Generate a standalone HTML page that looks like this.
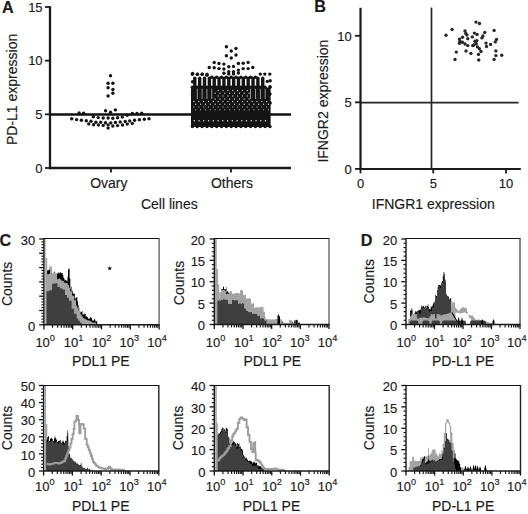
<!DOCTYPE html>
<html><head><meta charset="utf-8"><style>
html,body{margin:0;padding:0;background:#fff;width:528px;height:514px;overflow:hidden;}
svg{display:block;font-family:"Liberation Sans",sans-serif;}
text{stroke:#1a1a1a;stroke-width:0.15px;}
</style></head><body>
<svg width="528" height="514" viewBox="0 0 528 514" font-family="Liberation Sans, sans-serif" fill="#1a1a1a"><text x="2.10" y="12.80" font-size="16.2" text-anchor="start" font-weight="bold" >A</text>
<line x1="50.00" y1="6.30" x2="50.00" y2="169.20" stroke="#1a1a1a" stroke-width="2.3" stroke-linecap="butt"/>
<line x1="45.00" y1="7.00" x2="50.00" y2="7.00" stroke="#1a1a1a" stroke-width="1.8" stroke-linecap="butt"/>
<text x="42.60" y="11.80" font-size="13" text-anchor="end" font-weight="normal" >15</text>
<line x1="45.00" y1="60.67" x2="50.00" y2="60.67" stroke="#1a1a1a" stroke-width="1.8" stroke-linecap="butt"/>
<text x="42.60" y="65.47" font-size="13" text-anchor="end" font-weight="normal" >10</text>
<line x1="45.00" y1="114.33" x2="50.00" y2="114.33" stroke="#1a1a1a" stroke-width="1.8" stroke-linecap="butt"/>
<text x="42.60" y="119.13" font-size="13" text-anchor="end" font-weight="normal" >5</text>
<line x1="45.00" y1="168.00" x2="50.00" y2="168.00" stroke="#1a1a1a" stroke-width="1.8" stroke-linecap="butt"/>
<text x="42.60" y="172.80" font-size="13" text-anchor="end" font-weight="normal" >0</text>
<line x1="48.90" y1="168.00" x2="291.00" y2="168.00" stroke="#1a1a1a" stroke-width="2.3" stroke-linecap="butt"/>
<line x1="111.00" y1="168.00" x2="111.00" y2="172.60" stroke="#1a1a1a" stroke-width="1.8" stroke-linecap="butt"/>
<line x1="231.00" y1="168.00" x2="231.00" y2="172.60" stroke="#1a1a1a" stroke-width="1.8" stroke-linecap="butt"/>
<text x="108.80" y="188.30" font-size="14" text-anchor="middle" font-weight="normal" >Ovary</text>
<text x="232.00" y="188.30" font-size="14" text-anchor="middle" font-weight="normal" >Others</text>
<text x="169.30" y="208.80" font-size="14" text-anchor="middle" font-weight="normal" >Cell lines</text>
<text x="0.00" y="0.00" font-size="14" text-anchor="middle" font-weight="normal" transform="translate(16.6,89.4) rotate(-90)">PD-L1 expression</text>
<line x1="50.00" y1="114.50" x2="291.00" y2="114.50" stroke="#111" stroke-width="2.4" stroke-linecap="butt"/>
<g fill="#141414">
<circle cx="110.50" cy="75.70" r="1.7"/>
<circle cx="108.10" cy="83.20" r="1.7"/>
<circle cx="112.90" cy="83.20" r="1.7"/>
<circle cx="108.10" cy="87.80" r="1.7"/>
<circle cx="112.90" cy="89.50" r="1.7"/>
<circle cx="112.90" cy="93.30" r="1.7"/>
<circle cx="108.10" cy="96.00" r="1.7"/>
<circle cx="105.60" cy="110.80" r="1.7"/>
<circle cx="110.50" cy="112.30" r="1.7"/>
<circle cx="115.40" cy="109.90" r="1.7"/>
<circle cx="79.10" cy="112.90" r="1.7"/>
<circle cx="83.60" cy="113.10" r="1.7"/>
<circle cx="127.20" cy="115.20" r="1.7"/>
<circle cx="132.30" cy="113.50" r="1.7"/>
<circle cx="137.00" cy="113.50" r="1.7"/>
<circle cx="141.70" cy="113.20" r="1.7"/>
<circle cx="93.30" cy="116.80" r="1.7"/>
<circle cx="98.20" cy="117.60" r="1.7"/>
<circle cx="103.20" cy="118.00" r="1.7"/>
<circle cx="108.10" cy="118.00" r="1.7"/>
<circle cx="112.80" cy="118.20" r="1.7"/>
<circle cx="117.60" cy="117.70" r="1.7"/>
<circle cx="122.30" cy="117.10" r="1.7"/>
<circle cx="71.70" cy="118.80" r="1.7"/>
<circle cx="76.60" cy="119.60" r="1.7"/>
<circle cx="81.40" cy="120.30" r="1.7"/>
<circle cx="86.30" cy="120.80" r="1.7"/>
<circle cx="91.00" cy="121.30" r="1.7"/>
<circle cx="95.90" cy="122.20" r="1.7"/>
<circle cx="100.70" cy="122.20" r="1.7"/>
<circle cx="105.50" cy="122.80" r="1.7"/>
<circle cx="110.80" cy="122.90" r="1.7"/>
<circle cx="115.50" cy="122.50" r="1.7"/>
<circle cx="120.20" cy="122.00" r="1.7"/>
<circle cx="125.20" cy="121.50" r="1.7"/>
<circle cx="129.70" cy="120.90" r="1.7"/>
<circle cx="134.60" cy="120.30" r="1.7"/>
<circle cx="139.40" cy="119.80" r="1.7"/>
<circle cx="144.30" cy="119.30" r="1.7"/>
<circle cx="149.00" cy="118.70" r="1.7"/>
<circle cx="88.75" cy="123.90" r="1.7"/>
<circle cx="93.60" cy="124.80" r="1.7"/>
<circle cx="98.40" cy="125.00" r="1.7"/>
<circle cx="103.20" cy="125.40" r="1.7"/>
<circle cx="108.10" cy="124.90" r="1.7"/>
<circle cx="112.80" cy="126.00" r="1.7"/>
<circle cx="117.60" cy="125.60" r="1.7"/>
<circle cx="122.50" cy="125.00" r="1.7"/>
<circle cx="127.30" cy="124.10" r="1.7"/>
<circle cx="132.30" cy="123.40" r="1.7"/>
<circle cx="108.10" cy="128.10" r="1.7"/>
<circle cx="226.40" cy="46.80" r="1.7"/>
<circle cx="236.00" cy="48.50" r="1.7"/>
<circle cx="231.25" cy="51.00" r="1.7"/>
<circle cx="226.40" cy="55.70" r="1.7"/>
<circle cx="236.00" cy="55.00" r="1.7"/>
<circle cx="231.25" cy="58.00" r="1.7"/>
<circle cx="214.20" cy="62.50" r="1.7"/>
<circle cx="219.00" cy="63.50" r="1.7"/>
<circle cx="223.90" cy="64.10" r="1.7"/>
<circle cx="238.40" cy="63.50" r="1.7"/>
<circle cx="243.20" cy="63.30" r="1.7"/>
<circle cx="248.10" cy="62.40" r="1.7"/>
<circle cx="209.30" cy="67.50" r="1.7"/>
<circle cx="214.20" cy="67.80" r="1.7"/>
<circle cx="219.00" cy="68.60" r="1.7"/>
<circle cx="223.90" cy="69.00" r="1.7"/>
<circle cx="228.75" cy="66.70" r="1.7"/>
<circle cx="233.50" cy="66.40" r="1.7"/>
<circle cx="238.40" cy="70.10" r="1.7"/>
<circle cx="243.20" cy="68.60" r="1.7"/>
<circle cx="248.10" cy="68.60" r="1.7"/>
<circle cx="252.80" cy="67.50" r="1.7"/>
<circle cx="228.75" cy="71.80" r="1.7"/>
<circle cx="233.50" cy="71.80" r="1.7"/>
<circle cx="228.75" cy="73.90" r="1.7"/>
<circle cx="233.50" cy="73.90" r="1.7"/>
<circle cx="223.90" cy="73.20" r="1.7"/>
<circle cx="238.40" cy="73.00" r="1.7"/>
<circle cx="192.60" cy="73.40" r="1.7"/>
<circle cx="197.50" cy="74.30" r="1.7"/>
<circle cx="202.30" cy="74.20" r="1.7"/>
<circle cx="207.00" cy="75.20" r="1.7"/>
<circle cx="260.30" cy="74.10" r="1.7"/>
<circle cx="264.80" cy="74.10" r="1.7"/>
<circle cx="269.80" cy="74.10" r="1.7"/>
<circle cx="267.30" cy="81.40" r="1.7"/>
<circle cx="270.00" cy="86.80" r="1.7"/>
<circle cx="211.80" cy="77.20" r="1.7"/>
<circle cx="216.65" cy="77.20" r="1.7"/>
<circle cx="221.50" cy="77.20" r="1.7"/>
<circle cx="226.35" cy="77.20" r="1.7"/>
<circle cx="231.20" cy="77.20" r="1.7"/>
<circle cx="236.05" cy="77.20" r="1.7"/>
<circle cx="240.90" cy="77.20" r="1.7"/>
<circle cx="245.75" cy="77.20" r="1.7"/>
<circle cx="250.60" cy="77.20" r="1.7"/>
<circle cx="255.45" cy="77.20" r="1.7"/>
<circle cx="192.40" cy="74.3" r="1.7"/>
<circle cx="197.25" cy="74.3" r="1.7"/>
<circle cx="202.10" cy="74.3" r="1.7"/>
<circle cx="206.95" cy="74.3" r="1.7"/>
<rect x="193.13" y="76.6" width="3.4" height="11.8" rx="1.7"/>
<rect x="197.98" y="76.6" width="3.4" height="11.8" rx="1.7"/>
<rect x="202.83" y="76.6" width="3.4" height="11.8" rx="1.7"/>
<rect x="207.68" y="76.6" width="3.4" height="11.8" rx="1.7"/>
<rect x="212.53" y="76.6" width="3.4" height="11.8" rx="1.7"/>
<rect x="217.38" y="76.6" width="3.4" height="11.8" rx="1.7"/>
<rect x="222.23" y="76.6" width="3.4" height="11.8" rx="1.7"/>
<rect x="227.08" y="76.6" width="3.4" height="11.8" rx="1.7"/>
<rect x="231.93" y="76.6" width="3.4" height="11.8" rx="1.7"/>
<rect x="236.78" y="76.6" width="3.4" height="11.8" rx="1.7"/>
<rect x="241.63" y="76.6" width="3.4" height="11.8" rx="1.7"/>
<rect x="246.48" y="76.6" width="3.4" height="11.8" rx="1.7"/>
<rect x="251.33" y="76.6" width="3.4" height="11.8" rx="1.7"/>
<rect x="256.18" y="76.6" width="3.4" height="11.8" rx="1.7"/>
<rect x="261.03" y="76.6" width="3.4" height="11.8" rx="1.7"/>
<circle cx="192.6" cy="81.7" r="1.7"/>
<circle cx="270.2" cy="80.7" r="1.7"/>
<circle cx="192.4" cy="94.5" r="1.7"/>
<circle cx="270.0" cy="94.0" r="1.7"/>
<circle cx="192.7" cy="102" r="1.7"/>
<circle cx="270.2" cy="103" r="1.7"/>
<circle cx="192.40" cy="87.2" r="1.7"/>
<circle cx="197.25" cy="87.2" r="1.7"/>
<circle cx="202.10" cy="87.2" r="1.7"/>
<circle cx="206.95" cy="87.2" r="1.7"/>
<circle cx="211.80" cy="87.2" r="1.7"/>
<circle cx="216.65" cy="87.2" r="1.7"/>
<circle cx="221.50" cy="87.2" r="1.7"/>
<circle cx="226.35" cy="87.2" r="1.7"/>
<circle cx="231.20" cy="87.2" r="1.7"/>
<circle cx="236.05" cy="87.2" r="1.7"/>
<circle cx="240.90" cy="87.2" r="1.7"/>
<circle cx="245.75" cy="87.2" r="1.7"/>
<circle cx="250.60" cy="87.2" r="1.7"/>
<circle cx="255.45" cy="87.2" r="1.7"/>
<circle cx="260.30" cy="87.2" r="1.7"/>
<circle cx="265.15" cy="87.2" r="1.7"/>
<circle cx="270.00" cy="87.2" r="1.7"/>
<rect x="191.0" y="87.6" width="79.6" height="39.4"/>
<circle cx="192.40" cy="126.6" r="1.7"/>
<circle cx="197.25" cy="126.6" r="1.7"/>
<circle cx="202.10" cy="126.6" r="1.7"/>
<circle cx="206.95" cy="126.6" r="1.7"/>
<circle cx="211.80" cy="126.6" r="1.7"/>
<circle cx="216.65" cy="126.6" r="1.7"/>
<circle cx="221.50" cy="126.6" r="1.7"/>
<circle cx="226.35" cy="126.6" r="1.7"/>
<circle cx="231.20" cy="126.6" r="1.7"/>
<circle cx="236.05" cy="126.6" r="1.7"/>
<circle cx="240.90" cy="126.6" r="1.7"/>
<circle cx="245.75" cy="126.6" r="1.7"/>
<circle cx="250.60" cy="126.6" r="1.7"/>
<circle cx="255.45" cy="126.6" r="1.7"/>
<circle cx="260.30" cy="126.6" r="1.7"/>
<circle cx="265.15" cy="126.6" r="1.7"/>
<circle cx="270.00" cy="126.6" r="1.7"/>
</g>
<g fill="#ffffff">
<rect x="196.85" y="88.6" width="0.8" height="10.5" rx="0.4" opacity="0.7"/>
<rect x="201.70" y="88.6" width="0.8" height="10.5" rx="0.4" opacity="0.7"/>
<rect x="206.55" y="88.6" width="0.8" height="10.5" rx="0.4" opacity="0.7"/>
<rect x="211.40" y="88.6" width="0.8" height="10.5" rx="0.4" opacity="0.7"/>
<rect x="250.20" y="88.6" width="0.8" height="10.5" rx="0.4" opacity="0.7"/>
<rect x="255.05" y="88.6" width="0.8" height="10.5" rx="0.4" opacity="0.7"/>
<rect x="259.90" y="88.6" width="0.8" height="10.5" rx="0.4" opacity="0.7"/>
<rect x="264.75" y="88.6" width="0.8" height="10.5" rx="0.4" opacity="0.7"/>
<ellipse cx="218.17" cy="90.5" rx="0.6" ry="0.75" opacity="0.85"/>
<ellipse cx="223.02" cy="90.5" rx="0.6" ry="0.75" opacity="0.85"/>
<ellipse cx="227.87" cy="90.5" rx="0.6" ry="0.75" opacity="0.85"/>
<ellipse cx="232.72" cy="90.5" rx="0.6" ry="0.75" opacity="0.85"/>
<ellipse cx="237.57" cy="90.5" rx="0.6" ry="0.75" opacity="0.85"/>
<ellipse cx="242.42" cy="90.5" rx="0.6" ry="0.75" opacity="0.85"/>
<ellipse cx="247.27" cy="90.5" rx="0.6" ry="0.75" opacity="0.85"/>
<ellipse cx="215.12" cy="93.3" rx="0.6" ry="0.75" opacity="0.85"/>
<ellipse cx="219.97" cy="93.3" rx="0.6" ry="0.75" opacity="0.85"/>
<ellipse cx="224.82" cy="93.3" rx="0.6" ry="0.75" opacity="0.85"/>
<ellipse cx="229.67" cy="93.3" rx="0.6" ry="0.75" opacity="0.85"/>
<ellipse cx="234.52" cy="93.3" rx="0.6" ry="0.75" opacity="0.85"/>
<ellipse cx="239.37" cy="93.3" rx="0.6" ry="0.75" opacity="0.85"/>
<ellipse cx="244.22" cy="93.3" rx="0.6" ry="0.75" opacity="0.85"/>
<ellipse cx="249.07" cy="93.3" rx="0.6" ry="0.75" opacity="0.85"/>
<ellipse cx="218.17" cy="96.1" rx="0.6" ry="0.75" opacity="0.85"/>
<ellipse cx="223.02" cy="96.1" rx="0.6" ry="0.75" opacity="0.85"/>
<ellipse cx="227.87" cy="96.1" rx="0.6" ry="0.75" opacity="0.85"/>
<ellipse cx="232.72" cy="96.1" rx="0.6" ry="0.75" opacity="0.85"/>
<ellipse cx="237.57" cy="96.1" rx="0.6" ry="0.75" opacity="0.85"/>
<ellipse cx="242.42" cy="96.1" rx="0.6" ry="0.75" opacity="0.85"/>
<ellipse cx="247.27" cy="96.1" rx="0.6" ry="0.75" opacity="0.85"/>
<ellipse cx="215.12" cy="98.9" rx="0.6" ry="0.75" opacity="0.85"/>
<ellipse cx="219.97" cy="98.9" rx="0.6" ry="0.75" opacity="0.85"/>
<ellipse cx="224.82" cy="98.9" rx="0.6" ry="0.75" opacity="0.85"/>
<ellipse cx="229.67" cy="98.9" rx="0.6" ry="0.75" opacity="0.85"/>
<ellipse cx="234.52" cy="98.9" rx="0.6" ry="0.75" opacity="0.85"/>
<ellipse cx="239.37" cy="98.9" rx="0.6" ry="0.75" opacity="0.85"/>
<ellipse cx="244.22" cy="98.9" rx="0.6" ry="0.75" opacity="0.85"/>
<ellipse cx="249.07" cy="98.9" rx="0.6" ry="0.75" opacity="0.85"/>
<ellipse cx="193.92" cy="101.6" rx="0.6" ry="0.75" opacity="0.85"/>
<ellipse cx="198.77" cy="101.6" rx="0.6" ry="0.75" opacity="0.85"/>
<ellipse cx="203.62" cy="101.6" rx="0.6" ry="0.75" opacity="0.85"/>
<ellipse cx="208.47" cy="101.6" rx="0.6" ry="0.75" opacity="0.85"/>
<ellipse cx="213.32" cy="101.6" rx="0.6" ry="0.75" opacity="0.85"/>
<ellipse cx="218.17" cy="101.6" rx="0.6" ry="0.75" opacity="0.85"/>
<ellipse cx="223.02" cy="101.6" rx="0.6" ry="0.75" opacity="0.85"/>
<ellipse cx="227.87" cy="101.6" rx="0.6" ry="0.75" opacity="0.85"/>
<ellipse cx="232.72" cy="101.6" rx="0.6" ry="0.75" opacity="0.85"/>
<ellipse cx="237.57" cy="101.6" rx="0.6" ry="0.75" opacity="0.85"/>
<ellipse cx="242.42" cy="101.6" rx="0.6" ry="0.75" opacity="0.85"/>
<ellipse cx="247.27" cy="101.6" rx="0.6" ry="0.75" opacity="0.85"/>
<ellipse cx="252.12" cy="101.6" rx="0.6" ry="0.75" opacity="0.85"/>
<ellipse cx="256.97" cy="101.6" rx="0.6" ry="0.75" opacity="0.85"/>
<ellipse cx="261.82" cy="101.6" rx="0.6" ry="0.75" opacity="0.85"/>
<ellipse cx="266.67" cy="101.6" rx="0.6" ry="0.75" opacity="0.85"/>
<ellipse cx="195.72" cy="104.3" rx="0.6" ry="0.75" opacity="0.85"/>
<ellipse cx="200.57" cy="104.3" rx="0.6" ry="0.75" opacity="0.85"/>
<ellipse cx="205.42" cy="104.3" rx="0.6" ry="0.75" opacity="0.85"/>
<ellipse cx="210.27" cy="104.3" rx="0.6" ry="0.75" opacity="0.85"/>
<ellipse cx="215.12" cy="104.3" rx="0.6" ry="0.75" opacity="0.85"/>
<ellipse cx="219.97" cy="104.3" rx="0.6" ry="0.75" opacity="0.85"/>
<ellipse cx="224.82" cy="104.3" rx="0.6" ry="0.75" opacity="0.85"/>
<ellipse cx="229.67" cy="104.3" rx="0.6" ry="0.75" opacity="0.85"/>
<ellipse cx="234.52" cy="104.3" rx="0.6" ry="0.75" opacity="0.85"/>
<ellipse cx="239.37" cy="104.3" rx="0.6" ry="0.75" opacity="0.85"/>
<ellipse cx="244.22" cy="104.3" rx="0.6" ry="0.75" opacity="0.85"/>
<ellipse cx="249.07" cy="104.3" rx="0.6" ry="0.75" opacity="0.85"/>
<ellipse cx="253.92" cy="104.3" rx="0.6" ry="0.75" opacity="0.85"/>
<ellipse cx="258.77" cy="104.3" rx="0.6" ry="0.75" opacity="0.85"/>
<ellipse cx="263.62" cy="104.3" rx="0.6" ry="0.75" opacity="0.85"/>
<ellipse cx="268.47" cy="104.3" rx="0.6" ry="0.75" opacity="0.85"/>
<ellipse cx="193.92" cy="107.0" rx="0.6" ry="0.75" opacity="0.6"/>
<ellipse cx="198.77" cy="107.0" rx="0.6" ry="0.75" opacity="0.6"/>
<ellipse cx="203.62" cy="107.0" rx="0.6" ry="0.75" opacity="0.6"/>
<ellipse cx="208.47" cy="107.0" rx="0.6" ry="0.75" opacity="0.6"/>
<ellipse cx="213.32" cy="107.0" rx="0.6" ry="0.75" opacity="0.6"/>
<ellipse cx="218.17" cy="107.0" rx="0.6" ry="0.75" opacity="0.6"/>
<ellipse cx="223.02" cy="107.0" rx="0.6" ry="0.75" opacity="0.6"/>
<ellipse cx="227.87" cy="107.0" rx="0.6" ry="0.75" opacity="0.6"/>
<ellipse cx="232.72" cy="107.0" rx="0.6" ry="0.75" opacity="0.6"/>
<ellipse cx="237.57" cy="107.0" rx="0.6" ry="0.75" opacity="0.6"/>
<ellipse cx="242.42" cy="107.0" rx="0.6" ry="0.75" opacity="0.6"/>
<ellipse cx="247.27" cy="107.0" rx="0.6" ry="0.75" opacity="0.6"/>
<ellipse cx="252.12" cy="107.0" rx="0.6" ry="0.75" opacity="0.6"/>
<ellipse cx="256.97" cy="107.0" rx="0.6" ry="0.75" opacity="0.6"/>
<ellipse cx="261.82" cy="107.0" rx="0.6" ry="0.75" opacity="0.6"/>
<ellipse cx="266.67" cy="107.0" rx="0.6" ry="0.75" opacity="0.6"/>
<ellipse cx="195.72" cy="109.7" rx="0.6" ry="0.75" opacity="0.6"/>
<ellipse cx="200.57" cy="109.7" rx="0.6" ry="0.75" opacity="0.6"/>
<ellipse cx="205.42" cy="109.7" rx="0.6" ry="0.75" opacity="0.6"/>
<ellipse cx="210.27" cy="109.7" rx="0.6" ry="0.75" opacity="0.6"/>
<ellipse cx="215.12" cy="109.7" rx="0.6" ry="0.75" opacity="0.6"/>
<ellipse cx="219.97" cy="109.7" rx="0.6" ry="0.75" opacity="0.6"/>
<ellipse cx="224.82" cy="109.7" rx="0.6" ry="0.75" opacity="0.6"/>
<ellipse cx="229.67" cy="109.7" rx="0.6" ry="0.75" opacity="0.6"/>
<ellipse cx="234.52" cy="109.7" rx="0.6" ry="0.75" opacity="0.6"/>
<ellipse cx="239.37" cy="109.7" rx="0.6" ry="0.75" opacity="0.6"/>
<ellipse cx="244.22" cy="109.7" rx="0.6" ry="0.75" opacity="0.6"/>
<ellipse cx="249.07" cy="109.7" rx="0.6" ry="0.75" opacity="0.6"/>
<ellipse cx="253.92" cy="109.7" rx="0.6" ry="0.75" opacity="0.6"/>
<ellipse cx="258.77" cy="109.7" rx="0.6" ry="0.75" opacity="0.6"/>
<ellipse cx="263.62" cy="109.7" rx="0.6" ry="0.75" opacity="0.6"/>
<ellipse cx="268.47" cy="109.7" rx="0.6" ry="0.75" opacity="0.6"/>
<circle cx="194.30" cy="120.8" r="0.72" opacity="0.9"/>
<circle cx="199.05" cy="120.8" r="0.72" opacity="0.9"/>
<circle cx="203.80" cy="120.8" r="0.72" opacity="0.9"/>
<circle cx="208.55" cy="120.8" r="0.72" opacity="0.9"/>
<circle cx="213.30" cy="120.8" r="0.72" opacity="0.9"/>
<circle cx="218.05" cy="120.8" r="0.72" opacity="0.9"/>
<circle cx="222.80" cy="120.8" r="0.72" opacity="0.9"/>
<circle cx="227.55" cy="120.8" r="0.72" opacity="0.9"/>
<circle cx="232.30" cy="120.8" r="0.72" opacity="0.9"/>
<circle cx="237.05" cy="120.8" r="0.72" opacity="0.9"/>
<circle cx="241.80" cy="120.8" r="0.72" opacity="0.9"/>
<circle cx="246.55" cy="120.8" r="0.72" opacity="0.9"/>
<circle cx="251.30" cy="120.8" r="0.72" opacity="0.9"/>
<circle cx="256.05" cy="120.8" r="0.72" opacity="0.9"/>
<circle cx="260.80" cy="120.8" r="0.72" opacity="0.9"/>
<circle cx="265.55" cy="120.8" r="0.72" opacity="0.9"/>
</g>
<text x="314.20" y="12.40" font-size="16.2" text-anchor="start" font-weight="bold" >B</text>
<line x1="360.50" y1="7.80" x2="360.50" y2="170.00" stroke="#1a1a1a" stroke-width="2.2" stroke-linecap="butt"/>
<line x1="359.40" y1="168.90" x2="520.80" y2="168.90" stroke="#1a1a1a" stroke-width="2.0" stroke-linecap="butt"/>
<line x1="355.00" y1="168.90" x2="360.50" y2="168.90" stroke="#1a1a1a" stroke-width="1.8" stroke-linecap="butt"/>
<text x="351.80" y="173.70" font-size="13" text-anchor="end" font-weight="normal" >0</text>
<line x1="360.50" y1="168.90" x2="360.50" y2="173.40" stroke="#1a1a1a" stroke-width="1.8" stroke-linecap="butt"/>
<text x="360.50" y="188.30" font-size="13" text-anchor="middle" font-weight="normal" >0</text>
<line x1="355.00" y1="102.35" x2="360.50" y2="102.35" stroke="#1a1a1a" stroke-width="1.8" stroke-linecap="butt"/>
<text x="351.80" y="107.15" font-size="13" text-anchor="end" font-weight="normal" >5</text>
<line x1="433.25" y1="168.90" x2="433.25" y2="173.40" stroke="#1a1a1a" stroke-width="1.8" stroke-linecap="butt"/>
<text x="433.25" y="188.30" font-size="13" text-anchor="middle" font-weight="normal" >5</text>
<line x1="355.00" y1="35.80" x2="360.50" y2="35.80" stroke="#1a1a1a" stroke-width="1.8" stroke-linecap="butt"/>
<text x="351.80" y="40.60" font-size="13" text-anchor="end" font-weight="normal" >10</text>
<line x1="506.00" y1="168.90" x2="506.00" y2="173.40" stroke="#1a1a1a" stroke-width="1.8" stroke-linecap="butt"/>
<text x="506.00" y="188.30" font-size="13" text-anchor="middle" font-weight="normal" >10</text>
<text x="433.25" y="208.80" font-size="14" text-anchor="middle" font-weight="normal" >IFNGR1 expression</text>
<text x="0.00" y="0.00" font-size="14" text-anchor="middle" font-weight="normal" transform="translate(328.0,101.1) rotate(-90)">IFNGR2 expression</text>
<line x1="431.50" y1="7.60" x2="431.50" y2="169.00" stroke="#262626" stroke-width="1.7" stroke-linecap="butt"/>
<line x1="360.50" y1="102.70" x2="518.60" y2="102.70" stroke="#262626" stroke-width="1.7" stroke-linecap="butt"/>
<g fill="#262626">
<circle cx="476" cy="22.1" r="1.7"/>
<circle cx="479.5" cy="23.5" r="1.7"/>
<circle cx="452.1" cy="29.5" r="1.7"/>
<circle cx="446" cy="35.25" r="1.7"/>
<circle cx="465" cy="30.9" r="1.7"/>
<circle cx="465.75" cy="33.4" r="1.7"/>
<circle cx="466.9" cy="35" r="1.7"/>
<circle cx="494.1" cy="30.4" r="1.7"/>
<circle cx="484.75" cy="32.5" r="1.7"/>
<circle cx="474.4" cy="33.1" r="1.7"/>
<circle cx="477.1" cy="34.4" r="1.7"/>
<circle cx="482.9" cy="36" r="1.7"/>
<circle cx="481.9" cy="37.9" r="1.7"/>
<circle cx="472.25" cy="36.9" r="1.7"/>
<circle cx="467.75" cy="38.75" r="1.7"/>
<circle cx="462.5" cy="37.25" r="1.7"/>
<circle cx="459.4" cy="39.1" r="1.7"/>
<circle cx="460" cy="41.25" r="1.7"/>
<circle cx="459.5" cy="43.25" r="1.7"/>
<circle cx="462.5" cy="42.25" r="1.7"/>
<circle cx="465" cy="44" r="1.7"/>
<circle cx="467.75" cy="45.6" r="1.7"/>
<circle cx="472.75" cy="45.6" r="1.7"/>
<circle cx="475" cy="41.25" r="1.7"/>
<circle cx="476.9" cy="40.6" r="1.7"/>
<circle cx="476.25" cy="43.75" r="1.7"/>
<circle cx="477.5" cy="46.9" r="1.7"/>
<circle cx="479.4" cy="48.75" r="1.7"/>
<circle cx="481" cy="51.5" r="1.7"/>
<circle cx="478.5" cy="54.4" r="1.7"/>
<circle cx="478.75" cy="60" r="1.7"/>
<circle cx="470.9" cy="53.4" r="1.7"/>
<circle cx="466" cy="51" r="1.7"/>
<circle cx="456.25" cy="52.1" r="1.7"/>
<circle cx="455" cy="59.4" r="1.7"/>
<circle cx="486" cy="43.1" r="1.7"/>
<circle cx="486.5" cy="46.5" r="1.7"/>
<circle cx="490.6" cy="44.4" r="1.7"/>
<circle cx="496.5" cy="39.4" r="1.7"/>
<circle cx="495.25" cy="41.9" r="1.7"/>
<circle cx="495.9" cy="50.9" r="1.7"/>
<circle cx="495.9" cy="55.6" r="1.7"/>
<circle cx="501.75" cy="55.25" r="1.7"/>
<circle cx="494.1" cy="59.4" r="1.7"/>
<circle cx="473.75" cy="45" r="1.7"/>
</g>
<path d="M 46.50 324.80 L 46.50 269.02 L 47.12 269.02 L 47.12 270.54 L 47.75 270.54 L 47.75 270.35 L 48.38 270.35 L 48.38 270.17 L 49.00 270.17 L 49.00 269.48 L 49.80 269.48 L 49.80 264.75 L 50.00 264.75 L 50.00 279.90 L 50.67 279.90 L 50.67 278.66 L 51.33 278.66 L 51.33 279.53 L 52.00 279.53 L 52.00 279.57 L 53.00 279.57 L 53.00 275.99 L 53.60 275.99 L 53.60 275.22 L 54.20 275.22 L 54.20 271.46 L 54.80 271.46 L 54.80 273.78 L 55.40 273.78 L 55.40 274.93 L 56.00 274.93 L 56.00 274.70 L 56.67 274.70 L 56.67 272.95 L 57.33 272.95 L 57.33 273.66 L 58.00 273.66 L 58.00 272.78 L 58.67 272.78 L 58.67 272.14 L 59.33 272.14 L 59.33 273.59 L 60.00 273.59 L 60.00 272.02 L 60.67 272.02 L 60.67 273.15 L 61.33 273.15 L 61.33 272.89 L 62.00 272.89 L 62.00 273.10 L 62.63 273.10 L 62.63 274.98 L 63.27 274.98 L 63.27 277.52 L 63.90 277.52 L 63.90 278.56 L 64.53 278.56 L 64.53 280.49 L 65.17 280.49 L 65.17 279.87 L 65.80 279.87 L 65.80 280.29 L 66.65 280.29 L 66.65 281.17 L 67.50 281.17 L 67.50 277.11 L 68.00 277.11 L 68.00 269.49 L 68.60 269.49 L 68.60 268.49 L 69.60 268.49 L 69.60 278.44 L 70.30 278.44 L 70.30 288.62 L 70.92 288.62 L 70.92 286.57 L 71.55 286.57 L 71.55 291.58 L 72.17 291.58 L 72.17 290.69 L 72.80 290.69 L 72.80 292.95 L 73.45 292.95 L 73.45 293.89 L 74.10 293.89 L 74.10 293.48 L 74.80 293.48 L 74.80 299.49 L 75.43 299.49 L 75.43 297.83 L 76.07 297.83 L 76.07 297.63 L 76.70 297.63 L 76.70 297.06 L 77.35 297.06 L 77.35 301.61 L 78.00 301.61 L 78.00 304.91 L 78.65 304.91 L 78.65 308.09 L 79.30 308.09 L 79.30 311.48 L 79.94 311.48 L 79.94 311.64 L 80.58 311.64 L 80.58 312.24 L 81.22 312.24 L 81.22 311.97 L 81.86 311.97 L 81.86 310.93 L 82.50 310.93 L 82.50 314.38 L 83.10 314.38 L 83.10 314.31 L 83.70 314.31 L 83.70 314.65 L 84.37 314.65 L 84.37 313.34 L 85.03 313.34 L 85.03 313.96 L 85.70 313.96 L 85.70 316.84 L 86.33 316.84 L 86.33 316.04 L 86.95 316.04 L 86.95 317.21 L 87.58 317.21 L 87.58 317.51 L 88.20 317.51 L 88.20 318.97 L 88.85 318.97 L 88.85 318.22 L 89.50 318.22 L 89.50 318.76 L 90.15 318.76 L 90.15 317.12 L 90.80 317.12 L 90.80 317.38 L 91.45 317.38 L 91.45 318.36 L 92.10 318.36 L 92.10 320.57 L 92.75 320.57 L 92.75 320.51 L 93.40 320.51 L 93.40 320.50 L 94.05 320.50 L 94.05 318.66 L 94.70 318.66 L 94.70 319.73 L 95.35 319.73 L 95.35 321.52 L 96.00 321.52 L 96.00 321.48 L 96.60 321.48 L 96.60 321.03 L 97.20 321.03 L 97.20 324.58 L 98.00 324.58 L 98.00 324.80 L 98.00 324.80 Z" fill="#000" opacity="1"/>
<path d="M 44.60 324.80 L 44.60 239.00 L 45.60 239.00 L 45.60 324.80 Z" fill="#a3a3a3" opacity="1"/>
<path d="M 45.60 324.80 L 45.60 257.76 L 47.20 257.76 L 47.20 258.62 L 47.20 258.62 L 47.20 274.32 L 48.60 274.32 L 48.60 273.71 L 50.00 273.71 L 50.00 273.99 L 50.00 273.99 L 50.00 266.54 L 52.00 266.54 L 52.00 266.78 L 52.00 266.78 L 52.00 273.35 L 53.25 273.35 L 53.25 272.51 L 54.50 272.51 L 54.50 272.43 L 55.75 272.43 L 55.75 273.40 L 57.00 273.40 L 57.00 272.92 L 57.00 272.92 L 57.00 279.31 L 58.50 279.31 L 58.50 278.55 L 60.00 278.55 L 60.00 279.23 L 61.30 279.23 L 61.30 280.57 L 62.60 280.57 L 62.60 280.97 L 63.87 280.97 L 63.87 282.47 L 65.13 282.47 L 65.13 283.05 L 66.40 283.05 L 66.40 282.64 L 67.70 282.64 L 67.70 284.88 L 69.00 284.88 L 69.00 287.75 L 70.30 287.75 L 70.30 291.43 L 72.20 291.43 L 72.20 295.86 L 74.10 295.86 L 74.10 300.16 L 76.00 300.16 L 76.00 305.51 L 77.30 305.51 L 77.30 307.63 L 78.60 307.63 L 78.60 310.47 L 80.50 310.47 L 80.50 314.53 L 81.80 314.53 L 81.80 316.54 L 83.10 316.54 L 83.10 318.18 L 84.40 318.18 L 84.40 318.81 L 85.70 318.81 L 85.70 319.43 L 87.00 319.43 L 87.00 320.35 L 88.27 320.35 L 88.27 320.58 L 89.53 320.58 L 89.53 320.69 L 90.80 320.69 L 90.80 322.11 L 92.10 322.11 L 92.10 322.20 L 93.40 322.20 L 93.40 322.74 L 94.70 322.74 L 94.70 322.62 L 95.95 322.62 L 95.95 324.24 L 97.20 324.24 L 97.20 324.73 L 97.20 324.80 Z" fill="#a3a3a3" opacity="1"/>
<path d="M 46.50 324.80 L 46.50 291.16 L 47.90 291.16 L 47.90 291.15 L 49.30 291.15 L 49.30 290.26 L 50.70 290.26 L 50.70 290.28 L 52.10 290.28 L 52.10 291.04 L 52.10 291.04 L 52.10 283.64 L 53.90 283.64 L 53.90 283.57 L 55.70 283.57 L 55.70 283.21 L 57.50 283.21 L 57.50 283.51 L 57.50 283.51 L 57.50 287.11 L 60.00 287.11 L 60.00 288.38 L 62.60 288.38 L 62.60 289.66 L 65.00 289.66 L 65.00 294.93 L 67.00 294.93 L 67.00 297.64 L 69.00 297.64 L 69.00 300.72 L 71.60 300.72 L 71.60 308.69 L 74.10 308.69 L 74.10 313.75 L 76.70 313.75 L 76.70 318.54 L 78.30 318.54 L 78.30 320.69 L 79.90 320.69 L 79.90 322.77 L 81.80 322.77 L 81.80 324.34 L 81.80 324.80 Z" fill="#3f3f3f" opacity="1"/>
<path d="M 109.70 265.90 L 110.33 267.43 L 111.98 267.56 L 110.73 268.63 L 111.11 270.24 L 109.70 269.38 L 108.29 270.24 L 108.67 268.63 L 107.42 267.56 L 109.07 267.43 Z" fill="#111"/>
<line x1="39.20" y1="324.80" x2="43.90" y2="324.80" stroke="#111" stroke-width="1.3" stroke-linecap="butt"/>
<line x1="41.40" y1="321.94" x2="43.90" y2="321.94" stroke="#111" stroke-width="1.15" stroke-linecap="butt"/>
<line x1="41.40" y1="319.08" x2="43.90" y2="319.08" stroke="#111" stroke-width="1.15" stroke-linecap="butt"/>
<line x1="41.40" y1="316.22" x2="43.90" y2="316.22" stroke="#111" stroke-width="1.15" stroke-linecap="butt"/>
<line x1="41.40" y1="313.36" x2="43.90" y2="313.36" stroke="#111" stroke-width="1.15" stroke-linecap="butt"/>
<line x1="39.20" y1="310.50" x2="43.90" y2="310.50" stroke="#111" stroke-width="1.3" stroke-linecap="butt"/>
<line x1="41.40" y1="307.64" x2="43.90" y2="307.64" stroke="#111" stroke-width="1.15" stroke-linecap="butt"/>
<line x1="41.40" y1="304.78" x2="43.90" y2="304.78" stroke="#111" stroke-width="1.15" stroke-linecap="butt"/>
<line x1="41.40" y1="301.92" x2="43.90" y2="301.92" stroke="#111" stroke-width="1.15" stroke-linecap="butt"/>
<line x1="41.40" y1="299.06" x2="43.90" y2="299.06" stroke="#111" stroke-width="1.15" stroke-linecap="butt"/>
<line x1="39.20" y1="296.20" x2="43.90" y2="296.20" stroke="#111" stroke-width="1.3" stroke-linecap="butt"/>
<line x1="41.40" y1="293.34" x2="43.90" y2="293.34" stroke="#111" stroke-width="1.15" stroke-linecap="butt"/>
<line x1="41.40" y1="290.48" x2="43.90" y2="290.48" stroke="#111" stroke-width="1.15" stroke-linecap="butt"/>
<line x1="41.40" y1="287.62" x2="43.90" y2="287.62" stroke="#111" stroke-width="1.15" stroke-linecap="butt"/>
<line x1="41.40" y1="284.76" x2="43.90" y2="284.76" stroke="#111" stroke-width="1.15" stroke-linecap="butt"/>
<line x1="39.20" y1="281.90" x2="43.90" y2="281.90" stroke="#111" stroke-width="1.3" stroke-linecap="butt"/>
<line x1="41.40" y1="279.04" x2="43.90" y2="279.04" stroke="#111" stroke-width="1.15" stroke-linecap="butt"/>
<line x1="41.40" y1="276.18" x2="43.90" y2="276.18" stroke="#111" stroke-width="1.15" stroke-linecap="butt"/>
<line x1="41.40" y1="273.32" x2="43.90" y2="273.32" stroke="#111" stroke-width="1.15" stroke-linecap="butt"/>
<line x1="41.40" y1="270.46" x2="43.90" y2="270.46" stroke="#111" stroke-width="1.15" stroke-linecap="butt"/>
<line x1="39.20" y1="267.60" x2="43.90" y2="267.60" stroke="#111" stroke-width="1.3" stroke-linecap="butt"/>
<line x1="41.40" y1="264.74" x2="43.90" y2="264.74" stroke="#111" stroke-width="1.15" stroke-linecap="butt"/>
<line x1="41.40" y1="261.88" x2="43.90" y2="261.88" stroke="#111" stroke-width="1.15" stroke-linecap="butt"/>
<line x1="41.40" y1="259.02" x2="43.90" y2="259.02" stroke="#111" stroke-width="1.15" stroke-linecap="butt"/>
<line x1="41.40" y1="256.16" x2="43.90" y2="256.16" stroke="#111" stroke-width="1.15" stroke-linecap="butt"/>
<line x1="39.20" y1="253.30" x2="43.90" y2="253.30" stroke="#111" stroke-width="1.3" stroke-linecap="butt"/>
<line x1="41.40" y1="250.44" x2="43.90" y2="250.44" stroke="#111" stroke-width="1.15" stroke-linecap="butt"/>
<line x1="41.40" y1="247.58" x2="43.90" y2="247.58" stroke="#111" stroke-width="1.15" stroke-linecap="butt"/>
<line x1="41.40" y1="244.72" x2="43.90" y2="244.72" stroke="#111" stroke-width="1.15" stroke-linecap="butt"/>
<line x1="41.40" y1="241.86" x2="43.90" y2="241.86" stroke="#111" stroke-width="1.15" stroke-linecap="butt"/>
<line x1="39.20" y1="239.00" x2="43.90" y2="239.00" stroke="#111" stroke-width="1.3" stroke-linecap="butt"/>
<text x="35.20" y="330.50" font-size="13" text-anchor="end" font-weight="normal" >0</text>
<text x="35.20" y="244.70" font-size="13" text-anchor="end" font-weight="normal" >30</text>
<line x1="43.90" y1="324.80" x2="43.90" y2="329.40" stroke="#111" stroke-width="1.3" stroke-linecap="butt"/>
<line x1="52.57" y1="324.80" x2="52.57" y2="327.70" stroke="#111" stroke-width="1.15" stroke-linecap="butt"/>
<line x1="57.64" y1="324.80" x2="57.64" y2="327.70" stroke="#111" stroke-width="1.15" stroke-linecap="butt"/>
<line x1="61.24" y1="324.80" x2="61.24" y2="327.70" stroke="#111" stroke-width="1.15" stroke-linecap="butt"/>
<line x1="64.03" y1="324.80" x2="64.03" y2="327.70" stroke="#111" stroke-width="1.15" stroke-linecap="butt"/>
<line x1="66.31" y1="324.80" x2="66.31" y2="327.70" stroke="#111" stroke-width="1.15" stroke-linecap="butt"/>
<line x1="68.24" y1="324.80" x2="68.24" y2="327.70" stroke="#111" stroke-width="1.15" stroke-linecap="butt"/>
<line x1="69.91" y1="324.80" x2="69.91" y2="327.70" stroke="#111" stroke-width="1.15" stroke-linecap="butt"/>
<line x1="71.38" y1="324.80" x2="71.38" y2="327.70" stroke="#111" stroke-width="1.15" stroke-linecap="butt"/>
<line x1="72.70" y1="324.80" x2="72.70" y2="329.40" stroke="#111" stroke-width="1.3" stroke-linecap="butt"/>
<line x1="81.37" y1="324.80" x2="81.37" y2="327.70" stroke="#111" stroke-width="1.15" stroke-linecap="butt"/>
<line x1="86.44" y1="324.80" x2="86.44" y2="327.70" stroke="#111" stroke-width="1.15" stroke-linecap="butt"/>
<line x1="90.04" y1="324.80" x2="90.04" y2="327.70" stroke="#111" stroke-width="1.15" stroke-linecap="butt"/>
<line x1="92.83" y1="324.80" x2="92.83" y2="327.70" stroke="#111" stroke-width="1.15" stroke-linecap="butt"/>
<line x1="95.11" y1="324.80" x2="95.11" y2="327.70" stroke="#111" stroke-width="1.15" stroke-linecap="butt"/>
<line x1="97.04" y1="324.80" x2="97.04" y2="327.70" stroke="#111" stroke-width="1.15" stroke-linecap="butt"/>
<line x1="98.71" y1="324.80" x2="98.71" y2="327.70" stroke="#111" stroke-width="1.15" stroke-linecap="butt"/>
<line x1="100.18" y1="324.80" x2="100.18" y2="327.70" stroke="#111" stroke-width="1.15" stroke-linecap="butt"/>
<line x1="101.50" y1="324.80" x2="101.50" y2="329.40" stroke="#111" stroke-width="1.3" stroke-linecap="butt"/>
<line x1="110.17" y1="324.80" x2="110.17" y2="327.70" stroke="#111" stroke-width="1.15" stroke-linecap="butt"/>
<line x1="115.24" y1="324.80" x2="115.24" y2="327.70" stroke="#111" stroke-width="1.15" stroke-linecap="butt"/>
<line x1="118.84" y1="324.80" x2="118.84" y2="327.70" stroke="#111" stroke-width="1.15" stroke-linecap="butt"/>
<line x1="121.63" y1="324.80" x2="121.63" y2="327.70" stroke="#111" stroke-width="1.15" stroke-linecap="butt"/>
<line x1="123.91" y1="324.80" x2="123.91" y2="327.70" stroke="#111" stroke-width="1.15" stroke-linecap="butt"/>
<line x1="125.84" y1="324.80" x2="125.84" y2="327.70" stroke="#111" stroke-width="1.15" stroke-linecap="butt"/>
<line x1="127.51" y1="324.80" x2="127.51" y2="327.70" stroke="#111" stroke-width="1.15" stroke-linecap="butt"/>
<line x1="128.98" y1="324.80" x2="128.98" y2="327.70" stroke="#111" stroke-width="1.15" stroke-linecap="butt"/>
<line x1="130.30" y1="324.80" x2="130.30" y2="329.40" stroke="#111" stroke-width="1.3" stroke-linecap="butt"/>
<line x1="138.97" y1="324.80" x2="138.97" y2="327.70" stroke="#111" stroke-width="1.15" stroke-linecap="butt"/>
<line x1="144.04" y1="324.80" x2="144.04" y2="327.70" stroke="#111" stroke-width="1.15" stroke-linecap="butt"/>
<line x1="147.64" y1="324.80" x2="147.64" y2="327.70" stroke="#111" stroke-width="1.15" stroke-linecap="butt"/>
<line x1="150.43" y1="324.80" x2="150.43" y2="327.70" stroke="#111" stroke-width="1.15" stroke-linecap="butt"/>
<line x1="152.71" y1="324.80" x2="152.71" y2="327.70" stroke="#111" stroke-width="1.15" stroke-linecap="butt"/>
<line x1="154.64" y1="324.80" x2="154.64" y2="327.70" stroke="#111" stroke-width="1.15" stroke-linecap="butt"/>
<line x1="156.31" y1="324.80" x2="156.31" y2="327.70" stroke="#111" stroke-width="1.15" stroke-linecap="butt"/>
<line x1="157.78" y1="324.80" x2="157.78" y2="327.70" stroke="#111" stroke-width="1.15" stroke-linecap="butt"/>
<line x1="159.10" y1="324.80" x2="159.10" y2="329.40" stroke="#111" stroke-width="1.3" stroke-linecap="butt"/>
<line x1="43.90" y1="238.50" x2="159.70" y2="238.50" stroke="#111" stroke-width="1.0" stroke-linecap="butt"/>
<line x1="159.10" y1="238.50" x2="159.10" y2="324.80" stroke="#666" stroke-width="1.4" stroke-linecap="butt"/>
<line x1="43.90" y1="238.00" x2="43.90" y2="325.60" stroke="#1a1a1a" stroke-width="1.4" stroke-linecap="butt"/>
<line x1="43.30" y1="324.80" x2="159.70" y2="324.80" stroke="#1a1a1a" stroke-width="1.4" stroke-linecap="butt"/>
<text x="35.40" y="346.60" font-size="13">10<tspan font-size="9.2" dy="-5.6">0</tspan></text>
<text x="63.70" y="346.60" font-size="13">10<tspan font-size="9.2" dy="-5.6">1</tspan></text>
<text x="91.90" y="346.60" font-size="13">10<tspan font-size="9.2" dy="-5.6">2</tspan></text>
<text x="119.60" y="346.60" font-size="13">10<tspan font-size="9.2" dy="-5.6">3</tspan></text>
<text x="147.30" y="346.60" font-size="13">10<tspan font-size="9.2" dy="-5.6">4</tspan></text>
<text x="100.90" y="366.30" font-size="14" text-anchor="middle" font-weight="normal" >PDL1 PE</text>
<text x="0.00" y="0.00" font-size="14" text-anchor="middle" font-weight="normal" transform="translate(12.2,283.9) rotate(-90)">Counts</text>
<path d="M 217.40 324.50 L 217.40 300.76 L 218.12 300.76 L 218.12 298.65 L 218.84 298.65 L 218.84 298.74 L 219.56 298.74 L 219.56 299.50 L 220.28 299.50 L 220.28 298.37 L 221.00 298.37 L 221.00 298.41 L 221.30 298.41 L 221.30 289.35 L 222.15 289.35 L 222.15 289.23 L 223.00 289.23 L 223.00 286.78 L 224.00 286.78 L 224.00 289.22 L 225.00 289.22 L 225.00 289.19 L 226.00 289.19 L 226.00 287.19 L 226.50 287.19 L 226.50 292.27 L 227.25 292.27 L 227.25 291.02 L 228.00 291.02 L 228.00 292.90 L 228.67 292.90 L 228.67 291.76 L 229.33 291.76 L 229.33 293.80 L 230.00 293.80 L 230.00 293.68 L 230.67 293.68 L 230.67 290.90 L 231.33 290.90 L 231.33 293.97 L 232.00 293.97 L 232.00 293.80 L 232.00 293.80 L 232.00 300.49 L 232.60 300.49 L 232.60 298.46 L 233.20 298.46 L 233.20 298.25 L 233.80 298.25 L 233.80 300.51 L 234.40 300.51 L 234.40 300.17 L 235.00 300.17 L 235.00 299.01 L 235.60 299.01 L 235.60 298.64 L 236.20 298.64 L 236.20 299.02 L 236.80 299.02 L 236.80 299.87 L 237.40 299.87 L 237.40 300.50 L 238.00 300.50 L 238.00 299.42 L 239.00 299.42 L 239.00 301.51 L 239.60 301.51 L 239.60 301.78 L 240.20 301.78 L 240.20 302.08 L 240.80 302.08 L 240.80 302.57 L 241.40 302.57 L 241.40 300.29 L 242.00 300.29 L 242.00 301.00 L 242.67 301.00 L 242.67 302.38 L 243.33 302.38 L 243.33 304.11 L 244.00 304.11 L 244.00 303.44 L 244.67 303.44 L 244.67 305.70 L 245.33 305.70 L 245.33 308.25 L 246.00 308.25 L 246.00 310.06 L 246.67 310.06 L 246.67 308.49 L 247.33 308.49 L 247.33 309.56 L 248.00 309.56 L 248.00 310.83 L 248.67 310.83 L 248.67 309.89 L 249.33 309.89 L 249.33 309.29 L 250.00 309.29 L 250.00 309.34 L 250.67 309.34 L 250.67 309.44 L 251.33 309.44 L 251.33 310.23 L 252.00 310.23 L 252.00 311.31 L 252.60 311.31 L 252.60 310.53 L 253.20 310.53 L 253.20 310.61 L 253.80 310.61 L 253.80 310.61 L 254.40 310.61 L 254.40 312.14 L 255.00 312.14 L 255.00 312.68 L 255.60 312.68 L 255.60 312.70 L 256.20 312.70 L 256.20 311.16 L 256.80 311.16 L 256.80 310.30 L 257.40 310.30 L 257.40 312.87 L 258.00 312.87 L 258.00 311.58 L 258.67 311.58 L 258.67 313.44 L 259.33 313.44 L 259.33 313.91 L 260.00 313.91 L 260.00 314.75 L 260.67 314.75 L 260.67 312.64 L 261.33 312.64 L 261.33 314.54 L 262.00 314.54 L 262.00 314.30 L 262.67 314.30 L 262.67 316.08 L 263.33 316.08 L 263.33 317.57 L 264.00 317.57 L 264.00 316.61 L 264.67 316.61 L 264.67 318.36 L 265.33 318.36 L 265.33 319.89 L 266.00 319.89 L 266.00 320.95 L 266.67 320.95 L 266.67 319.39 L 267.33 319.39 L 267.33 320.28 L 268.00 320.28 L 268.00 321.96 L 268.67 321.96 L 268.67 321.91 L 269.33 321.91 L 269.33 322.43 L 270.00 322.43 L 270.00 320.39 L 270.60 320.39 L 270.60 323.37 L 271.20 323.37 L 271.20 323.46 L 271.80 323.46 L 271.80 323.04 L 272.40 323.04 L 272.40 320.23 L 273.00 320.23 L 273.00 322.01 L 273.60 322.01 L 273.60 323.50 L 274.20 323.50 L 274.20 323.34 L 274.80 323.34 L 274.80 322.19 L 275.40 322.19 L 275.40 319.98 L 276.00 319.98 L 276.00 324.39 L 276.67 324.39 L 276.67 319.54 L 277.33 319.54 L 277.33 319.23 L 278.00 319.23 L 278.00 314.26 L 278.67 314.26 L 278.67 316.58 L 279.33 316.58 L 279.33 319.84 L 280.00 319.84 L 280.00 320.42 L 280.60 320.42 L 280.60 320.39 L 281.20 320.39 L 281.20 322.12 L 281.80 322.12 L 281.80 323.77 L 282.40 323.77 L 282.40 321.14 L 283.00 321.14 L 283.00 322.51 L 283.60 322.51 L 283.60 324.09 L 284.20 324.09 L 284.20 323.16 L 284.80 323.16 L 284.80 323.18 L 285.40 323.18 L 285.40 323.52 L 286.00 323.52 L 286.00 323.35 L 286.60 323.35 L 286.60 323.79 L 287.20 323.79 L 287.20 323.35 L 287.80 323.35 L 287.80 323.86 L 288.40 323.86 L 288.40 323.77 L 289.00 323.77 L 289.00 323.12 L 289.60 323.12 L 289.60 321.45 L 290.20 321.45 L 290.20 323.90 L 290.80 323.90 L 290.80 322.92 L 291.40 322.92 L 291.40 322.37 L 292.00 322.37 L 292.00 321.85 L 292.67 321.85 L 292.67 323.01 L 293.33 323.01 L 293.33 323.08 L 294.00 323.08 L 294.00 320.14 L 294.67 320.14 L 294.67 321.81 L 295.33 321.81 L 295.33 321.05 L 296.00 321.05 L 296.00 320.16 L 296.67 320.16 L 296.67 321.56 L 297.33 321.56 L 297.33 322.36 L 298.00 322.36 L 298.00 322.92 L 298.67 322.92 L 298.67 321.63 L 299.33 321.63 L 299.33 323.56 L 300.00 323.56 L 300.00 324.50 L 300.00 324.50 Z" fill="#000" opacity="1"/>
<path d="M 214.90 324.50 L 214.90 239.00 L 216.80 239.00 L 216.80 269.00 L 218.10 269.00 L 218.10 284.60 L 219.30 284.60 L 219.30 324.50 Z" fill="#a3a3a3" opacity="1"/>
<path d="M 219.30 324.50 L 219.30 292.29 L 221.00 292.29 L 221.00 292.18 L 221.00 292.18 L 221.00 290.22 L 222.00 290.22 L 222.00 290.02 L 223.00 290.02 L 223.00 289.95 L 224.00 289.95 L 224.00 290.22 L 225.00 290.22 L 225.00 290.63 L 226.00 290.63 L 226.00 290.54 L 226.00 290.54 L 226.00 293.91 L 227.00 293.91 L 227.00 293.48 L 228.00 293.48 L 228.00 293.73 L 229.00 293.73 L 229.00 293.52 L 230.00 293.52 L 230.00 293.44 L 231.00 293.44 L 231.00 293.38 L 232.00 293.38 L 232.00 293.47 L 233.00 293.47 L 233.00 294.04 L 234.00 294.04 L 234.00 293.96 L 234.00 293.96 L 234.00 293.35 L 235.00 293.35 L 235.00 293.34 L 236.00 293.34 L 236.00 292.85 L 237.00 292.85 L 237.00 292.95 L 238.00 292.95 L 238.00 293.20 L 239.00 293.20 L 239.00 293.29 L 240.00 293.29 L 240.00 293.38 L 240.00 293.38 L 240.00 290.60 L 241.00 290.60 L 241.00 289.97 L 242.00 289.97 L 242.00 290.38 L 243.00 290.38 L 243.00 290.44 L 243.00 290.44 L 243.00 295.00 L 244.00 295.00 L 244.00 294.74 L 245.00 294.74 L 245.00 294.98 L 246.00 294.98 L 246.00 294.67 L 246.00 294.67 L 246.00 298.55 L 247.00 298.55 L 247.00 298.55 L 248.00 298.55 L 248.00 298.36 L 249.00 298.36 L 249.00 298.22 L 250.00 298.22 L 250.00 298.77 L 251.00 298.77 L 251.00 298.56 L 251.00 298.56 L 251.00 303.61 L 252.00 303.61 L 252.00 303.58 L 253.00 303.58 L 253.00 303.31 L 254.00 303.31 L 254.00 303.23 L 254.00 303.23 L 254.00 307.58 L 255.00 307.58 L 255.00 307.44 L 256.00 307.44 L 256.00 307.23 L 257.00 307.23 L 257.00 307.34 L 258.00 307.34 L 258.00 307.75 L 259.00 307.75 L 259.00 307.13 L 260.00 307.13 L 260.00 307.14 L 261.00 307.14 L 261.00 307.60 L 261.00 307.60 L 261.00 306.72 L 262.25 306.72 L 262.25 306.93 L 263.50 306.93 L 263.50 306.88 L 263.50 306.88 L 263.50 311.87 L 265.00 311.87 L 265.00 312.40 L 265.00 312.40 L 265.00 317.76 L 266.00 317.76 L 266.00 319.33 L 267.00 319.33 L 267.00 319.16 L 268.00 319.16 L 268.00 319.51 L 269.00 319.51 L 269.00 319.22 L 270.00 319.22 L 270.00 319.28 L 271.00 319.28 L 271.00 319.60 L 272.00 319.60 L 272.00 319.26 L 273.00 319.26 L 273.00 319.45 L 274.00 319.45 L 274.00 319.72 L 275.00 319.72 L 275.00 319.08 L 276.00 319.08 L 276.00 319.05 L 277.00 319.05 L 277.00 319.18 L 278.00 319.18 L 278.00 319.61 L 279.00 319.61 L 279.00 319.49 L 280.00 319.49 L 280.00 319.19 L 281.00 319.19 L 281.00 319.26 L 282.00 319.26 L 282.00 319.14 L 282.00 319.14 L 282.00 322.97 L 283.00 322.97 L 283.00 322.63 L 284.00 322.63 L 284.00 323.16 L 285.00 323.16 L 285.00 323.32 L 286.00 323.32 L 286.00 323.36 L 287.00 323.36 L 287.00 323.19 L 288.00 323.19 L 288.00 323.37 L 289.00 323.37 L 289.00 322.61 L 289.00 322.61 L 289.00 319.63 L 290.00 319.63 L 290.00 320.17 L 291.00 320.17 L 291.00 320.02 L 292.00 320.02 L 292.00 319.73 L 292.00 319.73 L 292.00 323.35 L 293.00 323.35 L 293.00 323.10 L 294.00 323.10 L 294.00 323.25 L 295.00 323.25 L 295.00 322.83 L 295.00 322.83 L 295.00 319.75 L 296.00 319.75 L 296.00 319.96 L 297.00 319.96 L 297.00 319.71 L 298.00 319.71 L 298.00 319.91 L 298.00 319.91 L 298.00 324.50 L 298.00 324.50 Z" fill="#a3a3a3" opacity="1"/>
<path d="M 217.40 324.50 L 217.40 300.60 L 218.60 300.60 L 218.60 300.69 L 219.80 300.69 L 219.80 300.74 L 221.00 300.74 L 221.00 300.85 L 221.00 300.85 L 221.00 299.79 L 222.00 299.79 L 222.00 299.94 L 223.00 299.94 L 223.00 299.22 L 224.00 299.22 L 224.00 299.57 L 225.00 299.57 L 225.00 299.95 L 226.00 299.95 L 226.00 299.72 L 227.00 299.72 L 227.00 299.92 L 228.00 299.92 L 228.00 299.29 L 228.00 299.29 L 228.00 303.88 L 229.00 303.88 L 229.00 303.70 L 230.00 303.70 L 230.00 303.94 L 231.00 303.94 L 231.00 303.96 L 232.00 303.96 L 232.00 303.51 L 232.00 303.51 L 232.00 299.97 L 233.00 299.97 L 233.00 300.02 L 234.00 300.02 L 234.00 300.53 L 235.00 300.53 L 235.00 300.41 L 236.00 300.41 L 236.00 299.93 L 237.00 299.93 L 237.00 300.44 L 238.00 300.44 L 238.00 299.91 L 238.00 299.91 L 238.00 303.99 L 239.00 303.99 L 239.00 303.60 L 240.00 303.60 L 240.00 303.50 L 241.00 303.50 L 241.00 304.20 L 242.00 304.20 L 242.00 303.67 L 242.00 303.67 L 242.00 303.07 L 243.00 303.07 L 243.00 303.69 L 244.00 303.69 L 244.00 303.60 L 244.00 303.60 L 244.00 308.23 L 245.00 308.23 L 245.00 308.77 L 246.00 308.77 L 246.00 308.43 L 246.00 308.43 L 246.00 310.74 L 247.00 310.74 L 247.00 310.96 L 248.00 310.96 L 248.00 312.15 L 249.00 312.15 L 249.00 311.95 L 250.00 311.95 L 250.00 312.17 L 251.00 312.17 L 251.00 312.11 L 252.00 312.11 L 252.00 311.64 L 252.00 311.64 L 252.00 313.99 L 253.00 313.99 L 253.00 313.83 L 254.00 313.83 L 254.00 313.82 L 255.00 313.82 L 255.00 313.75 L 256.00 313.75 L 256.00 313.94 L 257.00 313.94 L 257.00 314.18 L 257.00 314.18 L 257.00 315.60 L 258.00 315.60 L 258.00 316.14 L 259.00 316.14 L 259.00 315.87 L 260.00 315.87 L 260.00 315.85 L 260.00 315.85 L 260.00 318.65 L 261.00 318.65 L 261.00 318.38 L 262.00 318.38 L 262.00 318.25 L 263.00 318.25 L 263.00 318.38 L 264.00 318.38 L 264.00 318.56 L 264.00 318.56 L 264.00 320.15 L 265.00 320.15 L 265.00 320.88 L 266.00 320.88 L 266.00 320.12 L 266.50 320.12 L 266.50 324.50 L 266.50 324.50 Z" fill="#3f3f3f" opacity="1"/>
<path d="M 277.50 324.50 L 277.50 315.58 L 278.00 315.58 L 278.00 314.94 L 278.50 314.94 L 278.50 315.62 L 279.00 315.62 L 279.00 316.56 L 279.50 316.56 L 279.50 316.00 L 280.00 316.00 L 280.00 320.94 L 280.00 324.50 Z" fill="#000" opacity="1"/>
<path d="M 295.50 324.50 L 295.50 320.53 L 296.00 320.53 L 296.00 320.54 L 296.50 320.54 L 296.50 319.87 L 297.00 319.87 L 297.00 319.90 L 297.50 319.90 L 297.50 323.07 L 297.50 324.50 Z" fill="#000" opacity="1"/>
<line x1="209.60" y1="324.50" x2="214.30" y2="324.50" stroke="#111" stroke-width="1.3" stroke-linecap="butt"/>
<line x1="211.80" y1="320.23" x2="214.30" y2="320.23" stroke="#111" stroke-width="1.15" stroke-linecap="butt"/>
<line x1="211.80" y1="315.95" x2="214.30" y2="315.95" stroke="#111" stroke-width="1.15" stroke-linecap="butt"/>
<line x1="211.80" y1="311.68" x2="214.30" y2="311.68" stroke="#111" stroke-width="1.15" stroke-linecap="butt"/>
<line x1="211.80" y1="307.40" x2="214.30" y2="307.40" stroke="#111" stroke-width="1.15" stroke-linecap="butt"/>
<line x1="209.60" y1="303.12" x2="214.30" y2="303.12" stroke="#111" stroke-width="1.3" stroke-linecap="butt"/>
<line x1="211.80" y1="298.85" x2="214.30" y2="298.85" stroke="#111" stroke-width="1.15" stroke-linecap="butt"/>
<line x1="211.80" y1="294.57" x2="214.30" y2="294.57" stroke="#111" stroke-width="1.15" stroke-linecap="butt"/>
<line x1="211.80" y1="290.30" x2="214.30" y2="290.30" stroke="#111" stroke-width="1.15" stroke-linecap="butt"/>
<line x1="211.80" y1="286.02" x2="214.30" y2="286.02" stroke="#111" stroke-width="1.15" stroke-linecap="butt"/>
<line x1="209.60" y1="281.75" x2="214.30" y2="281.75" stroke="#111" stroke-width="1.3" stroke-linecap="butt"/>
<line x1="211.80" y1="277.48" x2="214.30" y2="277.48" stroke="#111" stroke-width="1.15" stroke-linecap="butt"/>
<line x1="211.80" y1="273.20" x2="214.30" y2="273.20" stroke="#111" stroke-width="1.15" stroke-linecap="butt"/>
<line x1="211.80" y1="268.93" x2="214.30" y2="268.93" stroke="#111" stroke-width="1.15" stroke-linecap="butt"/>
<line x1="211.80" y1="264.65" x2="214.30" y2="264.65" stroke="#111" stroke-width="1.15" stroke-linecap="butt"/>
<line x1="209.60" y1="260.38" x2="214.30" y2="260.38" stroke="#111" stroke-width="1.3" stroke-linecap="butt"/>
<line x1="211.80" y1="256.10" x2="214.30" y2="256.10" stroke="#111" stroke-width="1.15" stroke-linecap="butt"/>
<line x1="211.80" y1="251.82" x2="214.30" y2="251.82" stroke="#111" stroke-width="1.15" stroke-linecap="butt"/>
<line x1="211.80" y1="247.55" x2="214.30" y2="247.55" stroke="#111" stroke-width="1.15" stroke-linecap="butt"/>
<line x1="211.80" y1="243.28" x2="214.30" y2="243.28" stroke="#111" stroke-width="1.15" stroke-linecap="butt"/>
<line x1="209.60" y1="239.00" x2="214.30" y2="239.00" stroke="#111" stroke-width="1.3" stroke-linecap="butt"/>
<text x="205.10" y="330.20" font-size="13" text-anchor="end" font-weight="normal" >0</text>
<text x="205.10" y="308.82" font-size="13" text-anchor="end" font-weight="normal" >5</text>
<text x="205.10" y="287.45" font-size="13" text-anchor="end" font-weight="normal" >10</text>
<text x="205.10" y="266.07" font-size="13" text-anchor="end" font-weight="normal" >15</text>
<text x="205.10" y="244.70" font-size="13" text-anchor="end" font-weight="normal" >20</text>
<line x1="214.30" y1="324.50" x2="214.30" y2="329.10" stroke="#111" stroke-width="1.3" stroke-linecap="butt"/>
<line x1="222.93" y1="324.50" x2="222.93" y2="327.40" stroke="#111" stroke-width="1.15" stroke-linecap="butt"/>
<line x1="227.98" y1="324.50" x2="227.98" y2="327.40" stroke="#111" stroke-width="1.15" stroke-linecap="butt"/>
<line x1="231.56" y1="324.50" x2="231.56" y2="327.40" stroke="#111" stroke-width="1.15" stroke-linecap="butt"/>
<line x1="234.34" y1="324.50" x2="234.34" y2="327.40" stroke="#111" stroke-width="1.15" stroke-linecap="butt"/>
<line x1="236.61" y1="324.50" x2="236.61" y2="327.40" stroke="#111" stroke-width="1.15" stroke-linecap="butt"/>
<line x1="238.53" y1="324.50" x2="238.53" y2="327.40" stroke="#111" stroke-width="1.15" stroke-linecap="butt"/>
<line x1="240.20" y1="324.50" x2="240.20" y2="327.40" stroke="#111" stroke-width="1.15" stroke-linecap="butt"/>
<line x1="241.66" y1="324.50" x2="241.66" y2="327.40" stroke="#111" stroke-width="1.15" stroke-linecap="butt"/>
<line x1="242.98" y1="324.50" x2="242.98" y2="329.10" stroke="#111" stroke-width="1.3" stroke-linecap="butt"/>
<line x1="251.61" y1="324.50" x2="251.61" y2="327.40" stroke="#111" stroke-width="1.15" stroke-linecap="butt"/>
<line x1="256.66" y1="324.50" x2="256.66" y2="327.40" stroke="#111" stroke-width="1.15" stroke-linecap="butt"/>
<line x1="260.24" y1="324.50" x2="260.24" y2="327.40" stroke="#111" stroke-width="1.15" stroke-linecap="butt"/>
<line x1="263.02" y1="324.50" x2="263.02" y2="327.40" stroke="#111" stroke-width="1.15" stroke-linecap="butt"/>
<line x1="265.29" y1="324.50" x2="265.29" y2="327.40" stroke="#111" stroke-width="1.15" stroke-linecap="butt"/>
<line x1="267.21" y1="324.50" x2="267.21" y2="327.40" stroke="#111" stroke-width="1.15" stroke-linecap="butt"/>
<line x1="268.87" y1="324.50" x2="268.87" y2="327.40" stroke="#111" stroke-width="1.15" stroke-linecap="butt"/>
<line x1="270.34" y1="324.50" x2="270.34" y2="327.40" stroke="#111" stroke-width="1.15" stroke-linecap="butt"/>
<line x1="271.65" y1="324.50" x2="271.65" y2="329.10" stroke="#111" stroke-width="1.3" stroke-linecap="butt"/>
<line x1="280.28" y1="324.50" x2="280.28" y2="327.40" stroke="#111" stroke-width="1.15" stroke-linecap="butt"/>
<line x1="285.33" y1="324.50" x2="285.33" y2="327.40" stroke="#111" stroke-width="1.15" stroke-linecap="butt"/>
<line x1="288.91" y1="324.50" x2="288.91" y2="327.40" stroke="#111" stroke-width="1.15" stroke-linecap="butt"/>
<line x1="291.69" y1="324.50" x2="291.69" y2="327.40" stroke="#111" stroke-width="1.15" stroke-linecap="butt"/>
<line x1="293.96" y1="324.50" x2="293.96" y2="327.40" stroke="#111" stroke-width="1.15" stroke-linecap="butt"/>
<line x1="295.88" y1="324.50" x2="295.88" y2="327.40" stroke="#111" stroke-width="1.15" stroke-linecap="butt"/>
<line x1="297.55" y1="324.50" x2="297.55" y2="327.40" stroke="#111" stroke-width="1.15" stroke-linecap="butt"/>
<line x1="299.01" y1="324.50" x2="299.01" y2="327.40" stroke="#111" stroke-width="1.15" stroke-linecap="butt"/>
<line x1="300.32" y1="324.50" x2="300.32" y2="329.10" stroke="#111" stroke-width="1.3" stroke-linecap="butt"/>
<line x1="308.96" y1="324.50" x2="308.96" y2="327.40" stroke="#111" stroke-width="1.15" stroke-linecap="butt"/>
<line x1="314.01" y1="324.50" x2="314.01" y2="327.40" stroke="#111" stroke-width="1.15" stroke-linecap="butt"/>
<line x1="317.59" y1="324.50" x2="317.59" y2="327.40" stroke="#111" stroke-width="1.15" stroke-linecap="butt"/>
<line x1="320.37" y1="324.50" x2="320.37" y2="327.40" stroke="#111" stroke-width="1.15" stroke-linecap="butt"/>
<line x1="322.64" y1="324.50" x2="322.64" y2="327.40" stroke="#111" stroke-width="1.15" stroke-linecap="butt"/>
<line x1="324.56" y1="324.50" x2="324.56" y2="327.40" stroke="#111" stroke-width="1.15" stroke-linecap="butt"/>
<line x1="326.22" y1="324.50" x2="326.22" y2="327.40" stroke="#111" stroke-width="1.15" stroke-linecap="butt"/>
<line x1="327.69" y1="324.50" x2="327.69" y2="327.40" stroke="#111" stroke-width="1.15" stroke-linecap="butt"/>
<line x1="329.00" y1="324.50" x2="329.00" y2="329.10" stroke="#111" stroke-width="1.3" stroke-linecap="butt"/>
<line x1="214.30" y1="238.50" x2="329.60" y2="238.50" stroke="#111" stroke-width="1.0" stroke-linecap="butt"/>
<line x1="329.00" y1="238.50" x2="329.00" y2="324.50" stroke="#666" stroke-width="1.4" stroke-linecap="butt"/>
<line x1="214.30" y1="238.00" x2="214.30" y2="325.30" stroke="#1a1a1a" stroke-width="1.4" stroke-linecap="butt"/>
<line x1="213.70" y1="324.50" x2="329.60" y2="324.50" stroke="#1a1a1a" stroke-width="1.4" stroke-linecap="butt"/>
<text x="205.80" y="346.60" font-size="13">10<tspan font-size="9.2" dy="-5.6">0</tspan></text>
<text x="234.10" y="346.60" font-size="13">10<tspan font-size="9.2" dy="-5.6">1</tspan></text>
<text x="262.30" y="346.60" font-size="13">10<tspan font-size="9.2" dy="-5.6">2</tspan></text>
<text x="290.00" y="346.60" font-size="13">10<tspan font-size="9.2" dy="-5.6">3</tspan></text>
<text x="317.70" y="346.60" font-size="13">10<tspan font-size="9.2" dy="-5.6">4</tspan></text>
<text x="272.30" y="366.30" font-size="14" text-anchor="middle" font-weight="normal" >PDL1 PE</text>
<text x="0.00" y="0.00" font-size="14" text-anchor="middle" font-weight="normal" transform="translate(183.8,283) rotate(-90)">Counts</text>
<path d="M 409.50 324.50 L 409.50 320.14 L 410.00 320.14 L 410.00 310.32 L 410.73 310.32 L 410.73 311.06 L 411.47 311.06 L 411.47 308.30 L 412.20 308.30 L 412.20 309.64 L 412.50 309.64 L 412.50 316.64 L 413.14 316.64 L 413.14 317.02 L 413.79 317.02 L 413.79 314.90 L 414.43 314.90 L 414.43 313.18 L 415.07 313.18 L 415.07 310.98 L 415.71 310.98 L 415.71 312.20 L 416.36 312.20 L 416.36 311.55 L 417.00 311.55 L 417.00 311.60 L 417.67 311.60 L 417.67 310.75 L 418.33 310.75 L 418.33 309.93 L 419.00 309.93 L 419.00 310.47 L 419.67 310.47 L 419.67 309.90 L 420.33 309.90 L 420.33 309.36 L 421.00 309.36 L 421.00 305.54 L 421.62 305.54 L 421.62 307.51 L 422.23 307.51 L 422.23 306.80 L 422.85 306.80 L 422.85 305.78 L 423.46 305.78 L 423.46 306.27 L 424.08 306.27 L 424.08 308.28 L 424.69 308.28 L 424.69 307.73 L 425.31 307.73 L 425.31 305.75 L 425.92 305.75 L 425.92 308.26 L 426.54 308.26 L 426.54 305.65 L 427.15 305.65 L 427.15 305.97 L 427.77 305.97 L 427.77 304.27 L 428.38 304.27 L 428.38 306.97 L 429.00 306.97 L 429.00 307.77 L 429.00 307.77 L 429.00 309.33 L 429.60 309.33 L 429.60 308.62 L 430.20 308.62 L 430.20 309.46 L 430.80 309.46 L 430.80 306.08 L 431.40 306.08 L 431.40 307.07 L 432.00 307.07 L 432.00 306.44 L 432.67 306.44 L 432.67 304.53 L 433.33 304.53 L 433.33 302.62 L 434.00 302.62 L 434.00 302.90 L 434.67 302.90 L 434.67 300.73 L 435.33 300.73 L 435.33 295.00 L 436.00 295.00 L 436.00 296.03 L 437.00 296.03 L 437.00 290.53 L 437.67 290.53 L 437.67 287.27 L 438.33 287.27 L 438.33 284.70 L 439.00 284.70 L 439.00 285.01 L 440.00 285.01 L 440.00 285.45 L 440.67 285.45 L 440.67 285.29 L 441.33 285.29 L 441.33 282.61 L 442.00 282.61 L 442.00 281.02 L 442.80 281.02 L 442.80 276.17 L 443.60 276.17 L 443.60 271.98 L 444.30 271.98 L 444.30 276.96 L 445.00 276.96 L 445.00 279.38 L 445.50 279.38 L 445.50 281.96 L 446.00 281.96 L 446.00 294.20 L 446.77 294.20 L 446.77 296.03 L 447.53 296.03 L 447.53 296.54 L 448.30 296.54 L 448.30 296.87 L 448.93 296.87 L 448.93 299.13 L 449.57 299.13 L 449.57 300.13 L 450.20 300.13 L 450.20 298.21 L 451.20 298.21 L 451.20 308.90 L 451.60 308.90 L 451.60 312.84 L 452.30 312.84 L 452.30 314.53 L 453.00 314.53 L 453.00 316.19 L 453.60 316.19 L 453.60 319.43 L 454.20 319.43 L 454.20 316.81 L 454.80 316.81 L 454.80 319.21 L 455.40 319.21 L 455.40 320.20 L 456.00 320.20 L 456.00 319.71 L 456.67 319.71 L 456.67 319.94 L 457.33 319.94 L 457.33 316.69 L 458.00 316.69 L 458.00 323.19 L 458.67 323.19 L 458.67 322.09 L 459.33 322.09 L 459.33 324.50 L 460.00 324.50 L 460.00 323.71 L 460.00 324.50 Z" fill="#000" opacity="1"/>
<path d="M 410.50 324.50 L 410.50 312.46 L 412.20 312.46 L 412.20 310.87 L 412.50 310.87 L 412.50 317.64 L 413.40 317.64 L 413.40 318.37 L 414.30 318.37 L 414.30 317.51 L 415.20 317.51 L 415.20 318.00 L 416.10 318.00 L 416.10 318.40 L 417.00 318.40 L 417.00 317.58 L 417.00 317.58 L 417.00 311.35 L 418.00 311.35 L 418.00 311.42 L 419.00 311.42 L 419.00 310.84 L 419.00 310.84 L 419.00 313.48 L 420.00 313.48 L 420.00 313.80 L 421.00 313.80 L 421.00 313.55 L 421.00 313.55 L 421.00 308.23 L 422.00 308.23 L 422.00 307.66 L 423.00 307.66 L 423.00 307.74 L 424.00 307.74 L 424.00 307.61 L 425.00 307.61 L 425.00 308.01 L 426.00 308.01 L 426.00 308.42 L 427.00 308.42 L 427.00 308.09 L 428.00 308.09 L 428.00 308.27 L 429.00 308.27 L 429.00 307.88 L 429.00 307.88 L 429.00 311.55 L 430.00 311.55 L 430.00 310.90 L 431.00 310.90 L 431.00 311.09 L 432.00 311.09 L 432.00 311.47 L 432.00 311.47 L 432.00 307.63 L 433.00 307.63 L 433.00 307.32 L 434.00 307.32 L 434.00 306.99 L 434.00 306.99 L 434.00 302.67 L 435.00 302.67 L 435.00 299.76 L 436.00 299.76 L 436.00 296.98 L 437.00 296.98 L 437.00 291.31 L 438.00 291.31 L 438.00 288.15 L 439.00 288.15 L 439.00 286.29 L 440.00 286.29 L 440.00 287.98 L 441.00 287.98 L 441.00 284.60 L 442.00 284.60 L 442.00 282.38 L 443.60 282.38 L 443.60 273.99 L 445.00 273.99 L 445.00 280.52 L 445.50 280.52 L 445.50 281.92 L 446.00 281.92 L 446.00 295.61 L 447.15 295.61 L 447.15 296.46 L 448.30 296.46 L 448.30 298.60 L 449.25 298.60 L 449.25 299.32 L 450.20 299.32 L 450.20 300.98 L 451.20 300.98 L 451.20 309.80 L 451.60 309.80 L 451.60 313.80 L 453.00 313.80 L 453.00 316.51 L 454.00 316.51 L 454.00 318.15 L 455.00 318.15 L 455.00 320.17 L 456.00 320.17 L 456.00 321.22 L 457.00 321.22 L 457.00 324.08 L 457.00 324.50 Z" fill="#3f3f3f" opacity="1"/>
<path d="M 408.20 324.50 L 408.20 318.89 L 410.00 318.89 L 410.00 316.29 L 411.00 316.29 L 411.00 315.49 L 412.00 315.49 L 412.00 314.04 L 413.00 314.04 L 413.00 314.32 L 414.00 314.32 L 414.00 314.22 L 415.00 314.22 L 415.00 314.03 L 416.00 314.03 L 416.00 314.30 L 417.00 314.30 L 417.00 318.52 L 418.00 318.52 L 418.00 318.43 L 419.00 318.43 L 419.00 317.88 L 420.00 317.88 L 420.00 317.55 L 421.00 317.55 L 421.00 317.68 L 422.00 317.68 L 422.00 317.85 L 423.00 317.85 L 423.00 317.35 L 424.00 317.35 L 424.00 317.33 L 425.00 317.33 L 425.00 317.75 L 426.00 317.75 L 426.00 318.12 L 427.00 318.12 L 427.00 318.07 L 428.00 318.07 L 428.00 318.14 L 429.30 318.14 L 429.30 316.54 L 430.60 316.54 L 430.60 314.03 L 431.70 314.03 L 431.70 314.52 L 432.80 314.52 L 432.80 314.17 L 433.90 314.17 L 433.90 314.09 L 435.00 314.09 L 435.00 314.07 L 435.00 314.07 L 435.00 318.39 L 436.70 318.39 L 436.70 318.69 L 436.70 318.69 L 436.70 314.11 L 437.97 314.11 L 437.97 314.35 L 439.23 314.35 L 439.23 314.38 L 440.50 314.38 L 440.50 314.22 L 440.50 314.22 L 440.50 315.53 L 441.67 315.53 L 441.67 314.90 L 442.83 314.90 L 442.83 314.57 L 444.00 314.57 L 444.00 314.32 L 445.00 314.32 L 445.00 314.36 L 446.00 314.36 L 446.00 313.96 L 447.00 313.96 L 447.00 313.64 L 448.00 313.64 L 448.00 313.55 L 449.00 313.55 L 449.00 313.07 L 450.00 313.07 L 450.00 312.58 L 451.00 312.58 L 451.00 307.68 L 452.00 307.68 L 452.00 302.42 L 453.00 302.42 L 453.00 302.15 L 454.00 302.15 L 454.00 302.34 L 455.00 302.34 L 455.00 307.52 L 456.00 307.52 L 456.00 308.83 L 457.00 308.83 L 457.00 309.84 L 458.00 309.84 L 458.00 310.67 L 459.00 310.67 L 459.00 310.14 L 460.00 310.14 L 460.00 308.67 L 461.00 308.67 L 461.00 307.90 L 462.00 307.90 L 462.00 307.15 L 463.00 307.15 L 463.00 307.14 L 464.00 307.14 L 464.00 307.69 L 465.00 307.69 L 465.00 307.77 L 466.00 307.77 L 466.00 308.50 L 467.00 308.50 L 467.00 311.86 L 468.00 311.86 L 468.00 315.04 L 469.00 315.04 L 469.00 315.35 L 470.00 315.35 L 470.00 315.14 L 471.00 315.14 L 471.00 315.49 L 472.00 315.49 L 472.00 315.56 L 473.00 315.56 L 473.00 316.81 L 474.00 316.81 L 474.00 318.01 L 475.00 318.01 L 475.00 319.50 L 476.00 319.50 L 476.00 319.67 L 477.00 319.67 L 477.00 319.48 L 478.00 319.48 L 478.00 319.70 L 479.00 319.70 L 479.00 319.44 L 480.00 319.44 L 480.00 319.92 L 481.00 319.92 L 481.00 320.20 L 482.00 320.20 L 482.00 320.73 L 483.00 320.73 L 483.00 320.94 L 484.00 320.94 L 484.00 320.94 L 485.00 320.94 L 485.00 321.31 L 486.00 321.31 L 486.00 321.80 L 487.00 321.80 L 487.00 321.74 L 488.00 321.74 L 488.00 322.33 L 489.00 322.33 L 489.00 322.48 L 490.00 322.48 L 490.00 322.77 L 491.00 322.77 L 491.00 323.04 L 492.00 323.04 L 492.00 323.76 L 493.00 323.76 L 493.00 323.68 L 494.00 323.68 L 494.00 324.05 L 495.00 324.05 L 495.00 324.43 L 495.00 324.50 Z" fill="#a3a3a3" opacity="1"/>
<path d="M 455.50 324.50 L 455.50 312.50 L 456.62 312.50 L 456.62 312.75 L 457.75 312.75 L 457.75 313.00 L 458.88 313.00 L 458.88 313.25 L 460.00 313.25 L 460.00 313.50 L 461.00 313.50 L 461.00 313.25 L 462.00 313.25 L 462.00 313.00 L 463.00 313.00 L 463.00 312.75 L 464.00 312.75 L 464.00 312.50 L 465.00 312.50 L 465.00 312.83 L 466.00 312.83 L 466.00 313.17 L 467.00 313.17 L 467.00 313.50 L 468.00 313.50 L 468.00 315.75 L 469.00 315.75 L 469.00 318.00 L 470.00 318.00 L 470.00 318.25 L 471.00 318.25 L 471.00 318.50 L 471.00 324.50 Z" fill="#ffffff" opacity="1"/>
<rect x="409.5" y="320.6" width="8.899999999999977" height="3.8999999999999773" rx="1.8" fill="#3f3f3f"/>
<rect x="422.4" y="320.6" width="7.100000000000023" height="3.8999999999999773" rx="1.8" fill="#3f3f3f"/>
<rect x="431.5" y="320.6" width="8.5" height="3.8999999999999773" rx="1.8" fill="#3f3f3f"/>
<rect x="442" y="320.6" width="16" height="3.8999999999999773" rx="1.8" fill="#3f3f3f"/>
<rect x="459" y="320.6" width="7" height="3.8999999999999773" rx="1.8" fill="#3f3f3f"/>
<rect x="470" y="320.6" width="16" height="3.8999999999999773" rx="1.8" fill="#3f3f3f"/>
<path d="M 451.80 312.50 L 454.00 316.00 L 456.00 319.50 L 457.50 321.50" fill="none" stroke="#000" stroke-width="1.2" stroke-linejoin="miter" stroke-miterlimit="2"/>
<path d="M 457.70 324.50 L 457.70 321.50 L 458.40 317.50 L 459.00 317.50 L 459.70 321.50 L 459.70 324.50 Z" fill="#000" opacity="1"/>
<path d="M 461.00 324.50 L 461.00 321.50 L 461.70 318.00 L 462.30 318.00 L 463.00 321.50 L 463.00 324.50 Z" fill="#000" opacity="1"/>
<path d="M 481.30 324.50 L 481.30 321.50 L 482.00 319.50 L 482.60 319.50 L 483.30 321.50 L 483.30 324.50 Z" fill="#000" opacity="1"/>
<path d="M 492.50 324.50 L 492.50 321.50 L 493.20 319.50 L 493.80 319.50 L 494.50 321.50 L 494.50 324.50 Z" fill="#000" opacity="1"/>
<line x1="401.30" y1="324.50" x2="406.00" y2="324.50" stroke="#111" stroke-width="1.3" stroke-linecap="butt"/>
<line x1="403.50" y1="320.23" x2="406.00" y2="320.23" stroke="#111" stroke-width="1.15" stroke-linecap="butt"/>
<line x1="403.50" y1="315.95" x2="406.00" y2="315.95" stroke="#111" stroke-width="1.15" stroke-linecap="butt"/>
<line x1="403.50" y1="311.68" x2="406.00" y2="311.68" stroke="#111" stroke-width="1.15" stroke-linecap="butt"/>
<line x1="403.50" y1="307.40" x2="406.00" y2="307.40" stroke="#111" stroke-width="1.15" stroke-linecap="butt"/>
<line x1="401.30" y1="303.12" x2="406.00" y2="303.12" stroke="#111" stroke-width="1.3" stroke-linecap="butt"/>
<line x1="403.50" y1="298.85" x2="406.00" y2="298.85" stroke="#111" stroke-width="1.15" stroke-linecap="butt"/>
<line x1="403.50" y1="294.57" x2="406.00" y2="294.57" stroke="#111" stroke-width="1.15" stroke-linecap="butt"/>
<line x1="403.50" y1="290.30" x2="406.00" y2="290.30" stroke="#111" stroke-width="1.15" stroke-linecap="butt"/>
<line x1="403.50" y1="286.02" x2="406.00" y2="286.02" stroke="#111" stroke-width="1.15" stroke-linecap="butt"/>
<line x1="401.30" y1="281.75" x2="406.00" y2="281.75" stroke="#111" stroke-width="1.3" stroke-linecap="butt"/>
<line x1="403.50" y1="277.48" x2="406.00" y2="277.48" stroke="#111" stroke-width="1.15" stroke-linecap="butt"/>
<line x1="403.50" y1="273.20" x2="406.00" y2="273.20" stroke="#111" stroke-width="1.15" stroke-linecap="butt"/>
<line x1="403.50" y1="268.93" x2="406.00" y2="268.93" stroke="#111" stroke-width="1.15" stroke-linecap="butt"/>
<line x1="403.50" y1="264.65" x2="406.00" y2="264.65" stroke="#111" stroke-width="1.15" stroke-linecap="butt"/>
<line x1="401.30" y1="260.38" x2="406.00" y2="260.38" stroke="#111" stroke-width="1.3" stroke-linecap="butt"/>
<line x1="403.50" y1="256.10" x2="406.00" y2="256.10" stroke="#111" stroke-width="1.15" stroke-linecap="butt"/>
<line x1="403.50" y1="251.82" x2="406.00" y2="251.82" stroke="#111" stroke-width="1.15" stroke-linecap="butt"/>
<line x1="403.50" y1="247.55" x2="406.00" y2="247.55" stroke="#111" stroke-width="1.15" stroke-linecap="butt"/>
<line x1="403.50" y1="243.28" x2="406.00" y2="243.28" stroke="#111" stroke-width="1.15" stroke-linecap="butt"/>
<line x1="401.30" y1="239.00" x2="406.00" y2="239.00" stroke="#111" stroke-width="1.3" stroke-linecap="butt"/>
<text x="397.25" y="330.20" font-size="13" text-anchor="end" font-weight="normal" >0</text>
<text x="397.25" y="308.82" font-size="13" text-anchor="end" font-weight="normal" >5</text>
<text x="397.25" y="287.45" font-size="13" text-anchor="end" font-weight="normal" >10</text>
<text x="397.25" y="266.07" font-size="13" text-anchor="end" font-weight="normal" >15</text>
<text x="397.25" y="244.70" font-size="13" text-anchor="end" font-weight="normal" >20</text>
<line x1="406.00" y1="324.50" x2="406.00" y2="329.10" stroke="#111" stroke-width="1.3" stroke-linecap="butt"/>
<line x1="414.58" y1="324.50" x2="414.58" y2="327.40" stroke="#111" stroke-width="1.15" stroke-linecap="butt"/>
<line x1="419.60" y1="324.50" x2="419.60" y2="327.40" stroke="#111" stroke-width="1.15" stroke-linecap="butt"/>
<line x1="423.16" y1="324.50" x2="423.16" y2="327.40" stroke="#111" stroke-width="1.15" stroke-linecap="butt"/>
<line x1="425.92" y1="324.50" x2="425.92" y2="327.40" stroke="#111" stroke-width="1.15" stroke-linecap="butt"/>
<line x1="428.18" y1="324.50" x2="428.18" y2="327.40" stroke="#111" stroke-width="1.15" stroke-linecap="butt"/>
<line x1="430.09" y1="324.50" x2="430.09" y2="327.40" stroke="#111" stroke-width="1.15" stroke-linecap="butt"/>
<line x1="431.74" y1="324.50" x2="431.74" y2="327.40" stroke="#111" stroke-width="1.15" stroke-linecap="butt"/>
<line x1="433.20" y1="324.50" x2="433.20" y2="327.40" stroke="#111" stroke-width="1.15" stroke-linecap="butt"/>
<line x1="434.50" y1="324.50" x2="434.50" y2="329.10" stroke="#111" stroke-width="1.3" stroke-linecap="butt"/>
<line x1="443.08" y1="324.50" x2="443.08" y2="327.40" stroke="#111" stroke-width="1.15" stroke-linecap="butt"/>
<line x1="448.10" y1="324.50" x2="448.10" y2="327.40" stroke="#111" stroke-width="1.15" stroke-linecap="butt"/>
<line x1="451.66" y1="324.50" x2="451.66" y2="327.40" stroke="#111" stroke-width="1.15" stroke-linecap="butt"/>
<line x1="454.42" y1="324.50" x2="454.42" y2="327.40" stroke="#111" stroke-width="1.15" stroke-linecap="butt"/>
<line x1="456.68" y1="324.50" x2="456.68" y2="327.40" stroke="#111" stroke-width="1.15" stroke-linecap="butt"/>
<line x1="458.59" y1="324.50" x2="458.59" y2="327.40" stroke="#111" stroke-width="1.15" stroke-linecap="butt"/>
<line x1="460.24" y1="324.50" x2="460.24" y2="327.40" stroke="#111" stroke-width="1.15" stroke-linecap="butt"/>
<line x1="461.70" y1="324.50" x2="461.70" y2="327.40" stroke="#111" stroke-width="1.15" stroke-linecap="butt"/>
<line x1="463.00" y1="324.50" x2="463.00" y2="329.10" stroke="#111" stroke-width="1.3" stroke-linecap="butt"/>
<line x1="471.58" y1="324.50" x2="471.58" y2="327.40" stroke="#111" stroke-width="1.15" stroke-linecap="butt"/>
<line x1="476.60" y1="324.50" x2="476.60" y2="327.40" stroke="#111" stroke-width="1.15" stroke-linecap="butt"/>
<line x1="480.16" y1="324.50" x2="480.16" y2="327.40" stroke="#111" stroke-width="1.15" stroke-linecap="butt"/>
<line x1="482.92" y1="324.50" x2="482.92" y2="327.40" stroke="#111" stroke-width="1.15" stroke-linecap="butt"/>
<line x1="485.18" y1="324.50" x2="485.18" y2="327.40" stroke="#111" stroke-width="1.15" stroke-linecap="butt"/>
<line x1="487.09" y1="324.50" x2="487.09" y2="327.40" stroke="#111" stroke-width="1.15" stroke-linecap="butt"/>
<line x1="488.74" y1="324.50" x2="488.74" y2="327.40" stroke="#111" stroke-width="1.15" stroke-linecap="butt"/>
<line x1="490.20" y1="324.50" x2="490.20" y2="327.40" stroke="#111" stroke-width="1.15" stroke-linecap="butt"/>
<line x1="491.50" y1="324.50" x2="491.50" y2="329.10" stroke="#111" stroke-width="1.3" stroke-linecap="butt"/>
<line x1="500.08" y1="324.50" x2="500.08" y2="327.40" stroke="#111" stroke-width="1.15" stroke-linecap="butt"/>
<line x1="505.10" y1="324.50" x2="505.10" y2="327.40" stroke="#111" stroke-width="1.15" stroke-linecap="butt"/>
<line x1="508.66" y1="324.50" x2="508.66" y2="327.40" stroke="#111" stroke-width="1.15" stroke-linecap="butt"/>
<line x1="511.42" y1="324.50" x2="511.42" y2="327.40" stroke="#111" stroke-width="1.15" stroke-linecap="butt"/>
<line x1="513.68" y1="324.50" x2="513.68" y2="327.40" stroke="#111" stroke-width="1.15" stroke-linecap="butt"/>
<line x1="515.59" y1="324.50" x2="515.59" y2="327.40" stroke="#111" stroke-width="1.15" stroke-linecap="butt"/>
<line x1="517.24" y1="324.50" x2="517.24" y2="327.40" stroke="#111" stroke-width="1.15" stroke-linecap="butt"/>
<line x1="518.70" y1="324.50" x2="518.70" y2="327.40" stroke="#111" stroke-width="1.15" stroke-linecap="butt"/>
<line x1="520.00" y1="324.50" x2="520.00" y2="329.10" stroke="#111" stroke-width="1.3" stroke-linecap="butt"/>
<line x1="406.00" y1="238.50" x2="520.60" y2="238.50" stroke="#111" stroke-width="1.0" stroke-linecap="butt"/>
<line x1="520.00" y1="238.50" x2="520.00" y2="324.50" stroke="#555" stroke-width="1.4" stroke-linecap="butt"/>
<line x1="406.00" y1="238.00" x2="406.00" y2="325.30" stroke="#1a1a1a" stroke-width="1.4" stroke-linecap="butt"/>
<line x1="405.40" y1="324.50" x2="520.60" y2="324.50" stroke="#1a1a1a" stroke-width="1.4" stroke-linecap="butt"/>
<text x="396.50" y="346.60" font-size="13">10<tspan font-size="9.2" dy="-5.6">0</tspan></text>
<text x="424.70" y="346.60" font-size="13">10<tspan font-size="9.2" dy="-5.6">1</tspan></text>
<text x="452.40" y="346.60" font-size="13">10<tspan font-size="9.2" dy="-5.6">2</tspan></text>
<text x="480.00" y="346.60" font-size="13">10<tspan font-size="9.2" dy="-5.6">3</tspan></text>
<text x="507.10" y="346.60" font-size="13">10<tspan font-size="9.2" dy="-5.6">4</tspan></text>
<text x="463.00" y="366.30" font-size="14" text-anchor="middle" font-weight="normal" >PD-L1 PE</text>
<text x="0.00" y="0.00" font-size="14" text-anchor="middle" font-weight="normal" transform="translate(374,281.3) rotate(-90)">Counts</text>
<path d="M 44.80 471.00 L 44.80 385.50 L 46.00 385.50 L 46.00 423.90 L 47.30 423.90 L 47.30 471.00 Z" fill="#a3a3a3" opacity="1"/>
<path d="M 46.50 471.00 L 46.50 439.78 L 47.25 439.78 L 47.25 437.14 L 48.00 437.14 L 48.00 436.15 L 49.00 436.15 L 49.00 441.34 L 50.00 441.34 L 50.00 438.62 L 50.67 438.62 L 50.67 438.79 L 51.33 438.79 L 51.33 437.84 L 52.00 437.84 L 52.00 439.13 L 53.00 439.13 L 53.00 441.75 L 54.00 441.75 L 54.00 438.21 L 54.67 438.21 L 54.67 436.62 L 55.33 436.62 L 55.33 438.37 L 56.00 438.37 L 56.00 439.46 L 57.00 439.46 L 57.00 442.09 L 58.00 442.09 L 58.00 441.28 L 58.67 441.28 L 58.67 441.09 L 59.33 441.09 L 59.33 440.87 L 60.00 440.87 L 60.00 440.07 L 60.67 440.07 L 60.67 442.68 L 61.33 442.68 L 61.33 442.78 L 62.00 442.78 L 62.00 441.24 L 62.67 441.24 L 62.67 442.01 L 63.33 442.01 L 63.33 440.63 L 64.00 440.63 L 64.00 443.18 L 64.67 443.18 L 64.67 442.62 L 65.33 442.62 L 65.33 440.46 L 66.00 440.46 L 66.00 441.14 L 66.65 441.14 L 66.65 436.35 L 67.30 436.35 L 67.30 430.27 L 67.80 430.27 L 67.80 433.08 L 68.20 433.08 L 68.20 446.30 L 68.60 446.30 L 68.60 453.57 L 69.40 453.57 L 69.40 454.67 L 70.10 454.67 L 70.10 458.26 L 70.80 458.26 L 70.80 457.77 L 71.50 457.77 L 71.50 459.45 L 72.20 459.45 L 72.20 459.77 L 72.93 459.77 L 72.93 461.54 L 73.67 461.54 L 73.67 461.01 L 74.40 461.01 L 74.40 462.74 L 75.12 462.74 L 75.12 461.69 L 75.85 461.69 L 75.85 463.88 L 76.58 463.88 L 76.58 462.78 L 77.30 462.78 L 77.30 463.75 L 78.03 463.75 L 78.03 464.81 L 78.75 464.81 L 78.75 465.01 L 79.47 465.01 L 79.47 465.69 L 80.20 465.69 L 80.20 464.86 L 80.81 464.86 L 80.81 463.06 L 81.43 463.06 L 81.43 467.80 L 82.04 467.80 L 82.04 467.57 L 82.66 467.57 L 82.66 467.54 L 83.27 467.54 L 83.27 468.15 L 83.89 468.15 L 83.89 468.62 L 84.50 468.62 L 84.50 467.88 L 85.14 467.88 L 85.14 469.20 L 85.79 469.20 L 85.79 469.29 L 86.43 469.29 L 86.43 469.62 L 87.08 469.62 L 87.08 467.67 L 87.72 467.67 L 87.72 469.78 L 88.37 469.78 L 88.37 469.81 L 89.01 469.81 L 89.01 468.67 L 89.66 468.67 L 89.66 470.14 L 90.30 470.14 L 90.30 470.50 L 90.91 470.50 L 90.91 470.23 L 91.53 470.23 L 91.53 471.00 L 92.14 471.00 L 92.14 471.00 L 92.76 471.00 L 92.76 471.00 L 93.37 471.00 L 93.37 471.00 L 93.99 471.00 L 93.99 471.00 L 94.60 471.00 L 94.60 471.00 L 94.60 471.00 Z" fill="#000" opacity="1"/>
<path d="M 46.50 471.00 L 46.50 441.94 L 48.00 441.94 L 48.00 439.07 L 49.00 439.07 L 49.00 441.01 L 50.00 441.01 L 50.00 441.96 L 51.00 441.96 L 51.00 441.01 L 52.00 441.01 L 52.00 440.10 L 53.00 440.10 L 53.00 441.12 L 54.00 441.12 L 54.00 443.01 L 55.00 443.01 L 55.00 442.16 L 56.00 442.16 L 56.00 441.35 L 57.00 441.35 L 57.00 442.01 L 58.00 442.01 L 58.00 443.76 L 59.00 443.76 L 59.00 442.51 L 60.00 442.51 L 60.00 442.37 L 61.00 442.37 L 61.00 443.23 L 62.00 443.23 L 62.00 443.45 L 63.00 443.45 L 63.00 444.58 L 64.00 444.58 L 64.00 444.56 L 65.00 444.56 L 65.00 443.18 L 66.00 443.18 L 66.00 442.14 L 67.50 442.14 L 67.50 439.59 L 68.20 439.59 L 68.20 446.42 L 68.60 446.42 L 68.60 453.03 L 69.40 453.03 L 69.40 455.47 L 70.10 455.47 L 70.10 457.63 L 71.15 457.63 L 71.15 458.69 L 72.20 458.69 L 72.20 459.44 L 73.30 459.44 L 73.30 461.46 L 74.40 461.46 L 74.40 462.93 L 75.37 462.93 L 75.37 463.88 L 76.33 463.88 L 76.33 463.96 L 77.30 463.96 L 77.30 464.57 L 78.27 464.57 L 78.27 464.87 L 79.23 464.87 L 79.23 465.53 L 80.20 465.53 L 80.20 465.75 L 81.28 465.75 L 81.28 466.26 L 82.35 466.26 L 82.35 467.85 L 83.42 467.85 L 83.42 468.57 L 84.50 468.57 L 84.50 469.11 L 85.47 469.11 L 85.47 469.20 L 86.43 469.20 L 86.43 468.98 L 87.40 468.98 L 87.40 469.13 L 88.37 469.13 L 88.37 469.45 L 89.33 469.45 L 89.33 469.43 L 90.30 469.43 L 90.30 470.52 L 91.38 470.52 L 91.38 470.28 L 92.45 470.28 L 92.45 471.00 L 93.52 471.00 L 93.52 470.66 L 94.60 470.66 L 94.60 471.00 L 94.60 471.00 Z" fill="#3f3f3f" opacity="1"/>
<path d="M 46.80 463.66 L 47.60 463.66 L 47.60 464.09 L 48.40 464.09 L 48.40 464.26 L 49.20 464.26 L 49.20 464.53 L 50.00 464.53 L 50.00 464.31 L 50.83 464.31 L 50.83 464.09 L 51.67 464.09 L 51.67 463.79 L 52.50 463.79 L 52.50 463.59 L 53.33 463.59 L 53.33 463.64 L 54.17 463.64 L 54.17 463.03 L 55.00 463.03 L 55.00 463.02 L 55.83 463.02 L 55.83 462.90 L 56.67 462.90 L 56.67 463.01 L 57.50 463.01 L 57.50 463.16 L 58.33 463.16 L 58.33 463.47 L 59.17 463.47 L 59.17 463.40 L 60.00 463.40 L 60.00 463.11 L 60.86 463.11 L 60.86 462.69 L 61.72 462.69 L 61.72 462.03 L 62.58 462.03 L 62.58 461.88 L 63.44 461.88 L 63.44 461.27 L 64.30 461.27 L 64.30 460.68 L 65.27 460.68 L 65.27 458.30 L 66.23 458.30 L 66.23 455.85 L 67.20 455.85 L 67.20 453.57 L 68.30 453.57 L 68.30 450.63 L 69.40 450.63 L 69.40 447.45 L 70.45 447.45 L 70.45 443.46 L 71.50 443.46 L 71.50 438.89 L 72.60 438.89 L 72.60 434.00 L 73.70 434.00 L 73.70 428.84 L 74.40 428.84 L 74.40 421.56 L 75.90 421.56 L 75.90 420.12 L 76.50 420.12 L 76.50 415.96 L 77.50 415.96 L 77.50 415.89 L 78.00 415.89 L 78.00 419.97 L 79.00 419.97 L 79.00 424.69 L 79.30 424.69 L 79.30 433.18 L 80.20 433.18 L 80.20 433.29 L 80.50 433.29 L 80.50 424.11 L 81.60 424.11 L 81.60 423.83 L 83.00 423.83 L 83.00 424.65 L 83.80 424.65 L 83.80 428.58 L 85.20 428.58 L 85.20 439.01 L 86.70 439.01 L 86.70 444.67 L 87.75 444.67 L 87.75 447.36 L 88.80 447.36 L 88.80 450.22 L 89.90 450.22 L 89.90 453.31 L 91.00 453.31 L 91.00 456.05 L 92.05 456.05 L 92.05 459.08 L 93.10 459.08 L 93.10 462.06 L 94.07 462.06 L 94.07 463.14 L 95.03 463.14 L 95.03 464.18 L 96.00 464.18 L 96.00 465.59 L 96.97 465.59 L 96.97 466.14 L 97.93 466.14 L 97.93 466.84 L 98.90 466.84 L 98.90 467.52 L 99.76 467.52 L 99.76 467.76 L 100.62 467.76 L 100.62 467.72 L 101.48 467.72 L 101.48 468.21 L 102.34 468.21 L 102.34 468.53 L 103.20 468.53 L 103.20 468.33 L 104.15 468.33 L 104.15 468.68 L 105.10 468.68 L 105.10 468.96 L 106.05 468.96 L 106.05 468.58 L 107.00 468.58 L 107.00 468.79 L 108.00 468.79 L 108.00 467.93 L 109.00 467.93 L 109.00 466.70 L 110.00 466.70 L 110.00 468.08 L 111.00 468.08 L 111.00 469.30 L 111.82 469.30 L 111.82 469.48 L 112.65 469.48 L 112.65 469.78 L 113.47 469.78 L 113.47 469.82 L 114.29 469.82 L 114.29 469.80 L 115.12 469.80 L 115.12 469.47 L 115.94 469.47 L 115.94 469.89 L 116.76 469.89 L 116.76 469.63 L 117.59 469.63 L 117.59 469.87 L 118.41 469.87 L 118.41 469.55 L 119.24 469.55 L 119.24 470.08 L 120.06 470.08 L 120.06 469.89 L 120.88 469.89 L 120.88 469.99 L 121.71 469.99 L 121.71 469.71 L 122.53 469.71 L 122.53 469.98 L 123.35 469.98 L 123.35 469.99 L 124.18 469.99 L 124.18 470.03 L 125.00 470.03 L 125.00 469.92" fill="none" stroke="#9c9c9c" stroke-width="1.9" stroke-linejoin="miter" stroke-miterlimit="2"/>
<line x1="38.90" y1="471.00" x2="43.60" y2="471.00" stroke="#111" stroke-width="1.3" stroke-linecap="butt"/>
<line x1="41.10" y1="467.58" x2="43.60" y2="467.58" stroke="#111" stroke-width="1.15" stroke-linecap="butt"/>
<line x1="41.10" y1="464.16" x2="43.60" y2="464.16" stroke="#111" stroke-width="1.15" stroke-linecap="butt"/>
<line x1="41.10" y1="460.74" x2="43.60" y2="460.74" stroke="#111" stroke-width="1.15" stroke-linecap="butt"/>
<line x1="41.10" y1="457.32" x2="43.60" y2="457.32" stroke="#111" stroke-width="1.15" stroke-linecap="butt"/>
<line x1="38.90" y1="453.90" x2="43.60" y2="453.90" stroke="#111" stroke-width="1.3" stroke-linecap="butt"/>
<line x1="41.10" y1="450.48" x2="43.60" y2="450.48" stroke="#111" stroke-width="1.15" stroke-linecap="butt"/>
<line x1="41.10" y1="447.06" x2="43.60" y2="447.06" stroke="#111" stroke-width="1.15" stroke-linecap="butt"/>
<line x1="41.10" y1="443.64" x2="43.60" y2="443.64" stroke="#111" stroke-width="1.15" stroke-linecap="butt"/>
<line x1="41.10" y1="440.22" x2="43.60" y2="440.22" stroke="#111" stroke-width="1.15" stroke-linecap="butt"/>
<line x1="38.90" y1="436.80" x2="43.60" y2="436.80" stroke="#111" stroke-width="1.3" stroke-linecap="butt"/>
<line x1="41.10" y1="433.38" x2="43.60" y2="433.38" stroke="#111" stroke-width="1.15" stroke-linecap="butt"/>
<line x1="41.10" y1="429.96" x2="43.60" y2="429.96" stroke="#111" stroke-width="1.15" stroke-linecap="butt"/>
<line x1="41.10" y1="426.54" x2="43.60" y2="426.54" stroke="#111" stroke-width="1.15" stroke-linecap="butt"/>
<line x1="41.10" y1="423.12" x2="43.60" y2="423.12" stroke="#111" stroke-width="1.15" stroke-linecap="butt"/>
<line x1="38.90" y1="419.70" x2="43.60" y2="419.70" stroke="#111" stroke-width="1.3" stroke-linecap="butt"/>
<line x1="41.10" y1="416.28" x2="43.60" y2="416.28" stroke="#111" stroke-width="1.15" stroke-linecap="butt"/>
<line x1="41.10" y1="412.86" x2="43.60" y2="412.86" stroke="#111" stroke-width="1.15" stroke-linecap="butt"/>
<line x1="41.10" y1="409.44" x2="43.60" y2="409.44" stroke="#111" stroke-width="1.15" stroke-linecap="butt"/>
<line x1="41.10" y1="406.02" x2="43.60" y2="406.02" stroke="#111" stroke-width="1.15" stroke-linecap="butt"/>
<line x1="38.90" y1="402.60" x2="43.60" y2="402.60" stroke="#111" stroke-width="1.3" stroke-linecap="butt"/>
<line x1="41.10" y1="399.18" x2="43.60" y2="399.18" stroke="#111" stroke-width="1.15" stroke-linecap="butt"/>
<line x1="41.10" y1="395.76" x2="43.60" y2="395.76" stroke="#111" stroke-width="1.15" stroke-linecap="butt"/>
<line x1="41.10" y1="392.34" x2="43.60" y2="392.34" stroke="#111" stroke-width="1.15" stroke-linecap="butt"/>
<line x1="41.10" y1="388.92" x2="43.60" y2="388.92" stroke="#111" stroke-width="1.15" stroke-linecap="butt"/>
<line x1="38.90" y1="385.50" x2="43.60" y2="385.50" stroke="#111" stroke-width="1.3" stroke-linecap="butt"/>
<text x="35.30" y="476.70" font-size="13" text-anchor="end" font-weight="normal" >0</text>
<text x="35.30" y="459.60" font-size="13" text-anchor="end" font-weight="normal" >10</text>
<text x="35.30" y="442.50" font-size="13" text-anchor="end" font-weight="normal" >20</text>
<text x="35.30" y="425.40" font-size="13" text-anchor="end" font-weight="normal" >30</text>
<text x="35.30" y="408.30" font-size="13" text-anchor="end" font-weight="normal" >40</text>
<text x="35.30" y="391.20" font-size="13" text-anchor="end" font-weight="normal" >50</text>
<line x1="43.60" y1="471.00" x2="43.60" y2="475.60" stroke="#111" stroke-width="1.3" stroke-linecap="butt"/>
<line x1="52.27" y1="471.00" x2="52.27" y2="473.90" stroke="#111" stroke-width="1.15" stroke-linecap="butt"/>
<line x1="57.34" y1="471.00" x2="57.34" y2="473.90" stroke="#111" stroke-width="1.15" stroke-linecap="butt"/>
<line x1="60.94" y1="471.00" x2="60.94" y2="473.90" stroke="#111" stroke-width="1.15" stroke-linecap="butt"/>
<line x1="63.73" y1="471.00" x2="63.73" y2="473.90" stroke="#111" stroke-width="1.15" stroke-linecap="butt"/>
<line x1="66.01" y1="471.00" x2="66.01" y2="473.90" stroke="#111" stroke-width="1.15" stroke-linecap="butt"/>
<line x1="67.94" y1="471.00" x2="67.94" y2="473.90" stroke="#111" stroke-width="1.15" stroke-linecap="butt"/>
<line x1="69.61" y1="471.00" x2="69.61" y2="473.90" stroke="#111" stroke-width="1.15" stroke-linecap="butt"/>
<line x1="71.08" y1="471.00" x2="71.08" y2="473.90" stroke="#111" stroke-width="1.15" stroke-linecap="butt"/>
<line x1="72.40" y1="471.00" x2="72.40" y2="475.60" stroke="#111" stroke-width="1.3" stroke-linecap="butt"/>
<line x1="81.07" y1="471.00" x2="81.07" y2="473.90" stroke="#111" stroke-width="1.15" stroke-linecap="butt"/>
<line x1="86.14" y1="471.00" x2="86.14" y2="473.90" stroke="#111" stroke-width="1.15" stroke-linecap="butt"/>
<line x1="89.74" y1="471.00" x2="89.74" y2="473.90" stroke="#111" stroke-width="1.15" stroke-linecap="butt"/>
<line x1="92.53" y1="471.00" x2="92.53" y2="473.90" stroke="#111" stroke-width="1.15" stroke-linecap="butt"/>
<line x1="94.81" y1="471.00" x2="94.81" y2="473.90" stroke="#111" stroke-width="1.15" stroke-linecap="butt"/>
<line x1="96.74" y1="471.00" x2="96.74" y2="473.90" stroke="#111" stroke-width="1.15" stroke-linecap="butt"/>
<line x1="98.41" y1="471.00" x2="98.41" y2="473.90" stroke="#111" stroke-width="1.15" stroke-linecap="butt"/>
<line x1="99.88" y1="471.00" x2="99.88" y2="473.90" stroke="#111" stroke-width="1.15" stroke-linecap="butt"/>
<line x1="101.20" y1="471.00" x2="101.20" y2="475.60" stroke="#111" stroke-width="1.3" stroke-linecap="butt"/>
<line x1="109.87" y1="471.00" x2="109.87" y2="473.90" stroke="#111" stroke-width="1.15" stroke-linecap="butt"/>
<line x1="114.94" y1="471.00" x2="114.94" y2="473.90" stroke="#111" stroke-width="1.15" stroke-linecap="butt"/>
<line x1="118.54" y1="471.00" x2="118.54" y2="473.90" stroke="#111" stroke-width="1.15" stroke-linecap="butt"/>
<line x1="121.33" y1="471.00" x2="121.33" y2="473.90" stroke="#111" stroke-width="1.15" stroke-linecap="butt"/>
<line x1="123.61" y1="471.00" x2="123.61" y2="473.90" stroke="#111" stroke-width="1.15" stroke-linecap="butt"/>
<line x1="125.54" y1="471.00" x2="125.54" y2="473.90" stroke="#111" stroke-width="1.15" stroke-linecap="butt"/>
<line x1="127.21" y1="471.00" x2="127.21" y2="473.90" stroke="#111" stroke-width="1.15" stroke-linecap="butt"/>
<line x1="128.68" y1="471.00" x2="128.68" y2="473.90" stroke="#111" stroke-width="1.15" stroke-linecap="butt"/>
<line x1="130.00" y1="471.00" x2="130.00" y2="475.60" stroke="#111" stroke-width="1.3" stroke-linecap="butt"/>
<line x1="138.67" y1="471.00" x2="138.67" y2="473.90" stroke="#111" stroke-width="1.15" stroke-linecap="butt"/>
<line x1="143.74" y1="471.00" x2="143.74" y2="473.90" stroke="#111" stroke-width="1.15" stroke-linecap="butt"/>
<line x1="147.34" y1="471.00" x2="147.34" y2="473.90" stroke="#111" stroke-width="1.15" stroke-linecap="butt"/>
<line x1="150.13" y1="471.00" x2="150.13" y2="473.90" stroke="#111" stroke-width="1.15" stroke-linecap="butt"/>
<line x1="152.41" y1="471.00" x2="152.41" y2="473.90" stroke="#111" stroke-width="1.15" stroke-linecap="butt"/>
<line x1="154.34" y1="471.00" x2="154.34" y2="473.90" stroke="#111" stroke-width="1.15" stroke-linecap="butt"/>
<line x1="156.01" y1="471.00" x2="156.01" y2="473.90" stroke="#111" stroke-width="1.15" stroke-linecap="butt"/>
<line x1="157.48" y1="471.00" x2="157.48" y2="473.90" stroke="#111" stroke-width="1.15" stroke-linecap="butt"/>
<line x1="158.80" y1="471.00" x2="158.80" y2="475.60" stroke="#111" stroke-width="1.3" stroke-linecap="butt"/>
<line x1="43.60" y1="385.50" x2="159.40" y2="385.50" stroke="#111" stroke-width="1.0" stroke-linecap="butt"/>
<line x1="158.80" y1="385.50" x2="158.80" y2="471.00" stroke="#222" stroke-width="1.4" stroke-linecap="butt"/>
<line x1="43.60" y1="385.00" x2="43.60" y2="471.80" stroke="#1a1a1a" stroke-width="1.4" stroke-linecap="butt"/>
<line x1="43.00" y1="471.00" x2="159.40" y2="471.00" stroke="#1a1a1a" stroke-width="1.4" stroke-linecap="butt"/>
<text x="35.10" y="490.90" font-size="13">10<tspan font-size="9.2" dy="-5.6">0</tspan></text>
<text x="63.40" y="490.90" font-size="13">10<tspan font-size="9.2" dy="-5.6">1</tspan></text>
<text x="91.60" y="490.90" font-size="13">10<tspan font-size="9.2" dy="-5.6">2</tspan></text>
<text x="119.30" y="490.90" font-size="13">10<tspan font-size="9.2" dy="-5.6">3</tspan></text>
<text x="147.00" y="490.90" font-size="13">10<tspan font-size="9.2" dy="-5.6">4</tspan></text>
<text x="100.75" y="510.70" font-size="14" text-anchor="middle" font-weight="normal" >PDL1 PE</text>
<text x="0.00" y="0.00" font-size="14" text-anchor="middle" font-weight="normal" transform="translate(12.2,428) rotate(-90)">Counts</text>
<path d="M 215.20 471.00 L 215.20 385.50 L 216.80 385.50 L 216.80 423.00 L 217.80 423.00 L 217.80 471.00 Z" fill="#a3a3a3" opacity="1"/>
<path d="M 217.80 471.00 L 217.80 434.85 L 218.50 434.85 L 218.50 433.18 L 219.20 433.18 L 219.20 433.73 L 219.90 433.73 L 219.90 432.11 L 220.63 432.11 L 220.63 430.88 L 221.37 430.88 L 221.37 429.00 L 222.10 429.00 L 222.10 427.58 L 222.80 427.58 L 222.80 427.90 L 223.50 427.90 L 223.50 430.96 L 224.25 430.96 L 224.25 429.00 L 225.00 429.00 L 225.00 431.38 L 225.70 431.38 L 225.70 428.43 L 226.40 428.43 L 226.40 427.78 L 227.10 427.78 L 227.10 429.20 L 227.90 429.20 L 227.90 436.68 L 228.60 436.68 L 228.60 437.41 L 229.30 437.41 L 229.30 443.80 L 230.00 443.80 L 230.00 445.52 L 230.73 445.52 L 230.73 443.99 L 231.47 443.99 L 231.47 443.75 L 232.20 443.75 L 232.20 442.58 L 232.90 442.58 L 232.90 440.95 L 233.60 440.95 L 233.60 441.71 L 234.30 441.71 L 234.30 442.37 L 235.00 442.37 L 235.00 443.11 L 235.75 443.11 L 235.75 443.91 L 236.50 443.91 L 236.50 447.14 L 237.25 447.14 L 237.25 443.00 L 238.00 443.00 L 238.00 444.19 L 238.70 444.19 L 238.70 443.60 L 239.40 443.60 L 239.40 446.89 L 240.10 446.89 L 240.10 446.45 L 240.80 446.45 L 240.80 448.87 L 241.55 448.87 L 241.55 449.09 L 242.30 449.09 L 242.30 450.53 L 243.00 450.53 L 243.00 454.80 L 243.70 454.80 L 243.70 455.94 L 244.40 455.94 L 244.40 457.15 L 245.10 457.15 L 245.10 458.43 L 245.82 458.43 L 245.82 457.34 L 246.55 457.34 L 246.55 459.33 L 247.28 459.33 L 247.28 459.72 L 248.00 459.72 L 248.00 461.08 L 248.67 461.08 L 248.67 460.75 L 249.33 460.75 L 249.33 460.87 L 250.00 460.87 L 250.00 460.65 L 250.70 460.65 L 250.70 461.14 L 251.40 461.14 L 251.40 461.58 L 252.10 461.58 L 252.10 463.49 L 252.80 463.49 L 252.80 462.32 L 254.00 462.32 L 254.00 461.84 L 254.85 461.84 L 254.85 463.35 L 255.70 463.35 L 255.70 462.52 L 256.40 462.52 L 256.40 463.00 L 257.10 463.00 L 257.10 465.24 L 257.80 465.24 L 257.80 466.26 L 258.50 466.26 L 258.50 465.21 L 259.13 465.21 L 259.13 466.17 L 259.77 466.17 L 259.77 465.90 L 260.40 465.90 L 260.40 466.56 L 261.03 466.56 L 261.03 467.05 L 261.67 467.05 L 261.67 469.64 L 262.30 469.64 L 262.30 468.33 L 263.15 468.33 L 263.15 468.64 L 264.00 468.64 L 264.00 471.00 L 264.00 471.00 Z" fill="#000" opacity="1"/>
<path d="M 217.80 471.00 L 217.80 435.13 L 218.85 435.13 L 218.85 435.09 L 219.90 435.09 L 219.90 434.28 L 221.00 434.28 L 221.00 432.13 L 222.10 432.13 L 222.10 428.83 L 223.50 428.83 L 223.50 431.01 L 225.00 431.01 L 225.00 432.98 L 225.70 432.98 L 225.70 430.69 L 227.10 430.69 L 227.10 431.06 L 227.90 431.06 L 227.90 437.22 L 228.60 437.22 L 228.60 439.08 L 229.30 439.08 L 229.30 444.53 L 230.00 444.53 L 230.00 446.64 L 231.10 446.64 L 231.10 445.32 L 232.20 445.32 L 232.20 444.68 L 233.60 444.68 L 233.60 443.33 L 235.00 443.33 L 235.00 445.41 L 236.50 445.41 L 236.50 448.97 L 238.00 448.97 L 238.00 447.26 L 239.40 447.26 L 239.40 448.18 L 240.80 448.18 L 240.80 450.76 L 242.30 450.76 L 242.30 454.50 L 243.70 454.50 L 243.70 457.50 L 245.10 457.50 L 245.10 460.28 L 246.07 460.28 L 246.07 460.35 L 247.03 460.35 L 247.03 461.30 L 248.00 461.30 L 248.00 461.70 L 249.00 461.70 L 249.00 462.35 L 250.00 462.35 L 250.00 463.77 L 250.93 463.77 L 250.93 464.02 L 251.87 464.02 L 251.87 465.66 L 252.80 465.66 L 252.80 465.93 L 253.77 465.93 L 253.77 465.83 L 254.73 465.83 L 254.73 465.85 L 255.70 465.85 L 255.70 465.32 L 256.63 465.32 L 256.63 465.90 L 257.57 465.90 L 257.57 467.74 L 258.50 467.74 L 258.50 469.06 L 259.45 469.06 L 259.45 468.97 L 260.40 468.97 L 260.40 469.31 L 261.35 469.31 L 261.35 470.85 L 262.30 470.85 L 262.30 471.00 L 262.30 471.00 Z" fill="#3f3f3f" opacity="1"/>
<path d="M 217.30 460.92 L 217.80 460.92 L 217.80 460.49 L 218.73 460.49 L 218.73 459.25 L 219.67 459.25 L 219.67 458.07 L 220.60 458.07 L 220.60 456.85 L 221.57 456.85 L 221.57 456.29 L 222.53 456.29 L 222.53 455.36 L 223.50 455.36 L 223.50 454.88 L 224.47 454.88 L 224.47 453.31 L 225.43 453.31 L 225.43 452.28 L 226.40 452.28 L 226.40 451.10 L 227.37 451.10 L 227.37 449.29 L 228.33 449.29 L 228.33 447.95 L 229.30 447.95 L 229.30 445.99 L 230.70 445.99 L 230.70 440.47 L 232.20 440.47 L 232.20 436.27 L 233.25 436.27 L 233.25 434.05 L 234.30 434.05 L 234.30 432.64 L 235.40 432.64 L 235.40 430.78 L 236.50 430.78 L 236.50 428.90 L 237.90 428.90 L 237.90 422.82 L 239.40 422.82 L 239.40 418.67 L 240.80 418.67 L 240.80 417.38 L 242.30 417.38 L 242.30 418.58 L 243.70 418.58 L 243.70 420.03 L 245.10 420.03 L 245.10 419.39 L 246.60 419.39 L 246.60 427.25 L 248.00 427.25 L 248.00 434.77 L 249.50 434.77 L 249.50 441.71 L 250.90 441.71 L 250.90 448.95 L 252.30 448.95 L 252.30 451.99 L 253.20 451.99 L 253.20 443.27 L 254.50 443.27 L 254.50 442.18 L 255.20 442.18 L 255.20 452.43 L 255.70 452.43 L 255.70 459.68 L 256.65 459.68 L 256.65 460.05 L 257.60 460.05 L 257.60 460.47 L 258.55 460.47 L 258.55 461.26 L 259.50 461.26 L 259.50 462.04 L 260.45 462.04 L 260.45 463.39 L 261.40 463.39 L 261.40 464.88 L 262.35 464.88 L 262.35 466.43 L 263.30 466.43 L 263.30 467.64 L 264.25 467.64 L 264.25 468.72 L 265.20 468.72 L 265.20 469.44 L 266.15 469.44 L 266.15 468.88 L 267.10 468.88 L 267.10 469.26 L 268.05 469.26 L 268.05 468.92 L 269.00 468.92 L 269.00 469.05 L 269.93 469.05 L 269.93 468.85 L 270.87 468.85 L 270.87 469.11 L 271.80 469.11 L 271.80 468.97 L 272.75 468.97 L 272.75 469.02 L 273.70 469.02 L 273.70 468.90 L 274.65 468.90 L 274.65 468.56 L 275.60 468.56 L 275.60 468.59 L 276.55 468.59 L 276.55 469.14 L 277.50 469.14 L 277.50 469.74 L 278.33 469.74 L 278.33 469.74 L 279.17 469.74 L 279.17 469.87 L 280.00 469.87 L 280.00 469.96 L 280.83 469.96 L 280.83 469.83 L 281.67 469.83 L 281.67 469.80 L 282.50 469.80 L 282.50 469.94 L 283.33 469.94 L 283.33 470.23 L 284.17 470.23 L 284.17 470.15 L 285.00 470.15 L 285.00 470.09" fill="none" stroke="#9c9c9c" stroke-width="1.9" stroke-linejoin="miter" stroke-miterlimit="2"/>
<line x1="209.60" y1="471.00" x2="214.30" y2="471.00" stroke="#111" stroke-width="1.3" stroke-linecap="butt"/>
<line x1="211.80" y1="466.73" x2="214.30" y2="466.73" stroke="#111" stroke-width="1.15" stroke-linecap="butt"/>
<line x1="211.80" y1="462.45" x2="214.30" y2="462.45" stroke="#111" stroke-width="1.15" stroke-linecap="butt"/>
<line x1="211.80" y1="458.18" x2="214.30" y2="458.18" stroke="#111" stroke-width="1.15" stroke-linecap="butt"/>
<line x1="211.80" y1="453.90" x2="214.30" y2="453.90" stroke="#111" stroke-width="1.15" stroke-linecap="butt"/>
<line x1="209.60" y1="449.62" x2="214.30" y2="449.62" stroke="#111" stroke-width="1.3" stroke-linecap="butt"/>
<line x1="211.80" y1="445.35" x2="214.30" y2="445.35" stroke="#111" stroke-width="1.15" stroke-linecap="butt"/>
<line x1="211.80" y1="441.07" x2="214.30" y2="441.07" stroke="#111" stroke-width="1.15" stroke-linecap="butt"/>
<line x1="211.80" y1="436.80" x2="214.30" y2="436.80" stroke="#111" stroke-width="1.15" stroke-linecap="butt"/>
<line x1="211.80" y1="432.52" x2="214.30" y2="432.52" stroke="#111" stroke-width="1.15" stroke-linecap="butt"/>
<line x1="209.60" y1="428.25" x2="214.30" y2="428.25" stroke="#111" stroke-width="1.3" stroke-linecap="butt"/>
<line x1="211.80" y1="423.98" x2="214.30" y2="423.98" stroke="#111" stroke-width="1.15" stroke-linecap="butt"/>
<line x1="211.80" y1="419.70" x2="214.30" y2="419.70" stroke="#111" stroke-width="1.15" stroke-linecap="butt"/>
<line x1="211.80" y1="415.43" x2="214.30" y2="415.43" stroke="#111" stroke-width="1.15" stroke-linecap="butt"/>
<line x1="211.80" y1="411.15" x2="214.30" y2="411.15" stroke="#111" stroke-width="1.15" stroke-linecap="butt"/>
<line x1="209.60" y1="406.88" x2="214.30" y2="406.88" stroke="#111" stroke-width="1.3" stroke-linecap="butt"/>
<line x1="211.80" y1="402.60" x2="214.30" y2="402.60" stroke="#111" stroke-width="1.15" stroke-linecap="butt"/>
<line x1="211.80" y1="398.32" x2="214.30" y2="398.32" stroke="#111" stroke-width="1.15" stroke-linecap="butt"/>
<line x1="211.80" y1="394.05" x2="214.30" y2="394.05" stroke="#111" stroke-width="1.15" stroke-linecap="butt"/>
<line x1="211.80" y1="389.77" x2="214.30" y2="389.77" stroke="#111" stroke-width="1.15" stroke-linecap="butt"/>
<line x1="209.60" y1="385.50" x2="214.30" y2="385.50" stroke="#111" stroke-width="1.3" stroke-linecap="butt"/>
<text x="205.50" y="476.70" font-size="13" text-anchor="end" font-weight="normal" >0</text>
<text x="205.50" y="455.32" font-size="13" text-anchor="end" font-weight="normal" >10</text>
<text x="205.50" y="433.95" font-size="13" text-anchor="end" font-weight="normal" >20</text>
<text x="205.50" y="412.57" font-size="13" text-anchor="end" font-weight="normal" >30</text>
<text x="205.50" y="391.20" font-size="13" text-anchor="end" font-weight="normal" >40</text>
<line x1="214.30" y1="471.00" x2="214.30" y2="475.60" stroke="#111" stroke-width="1.3" stroke-linecap="butt"/>
<line x1="222.95" y1="471.00" x2="222.95" y2="473.90" stroke="#111" stroke-width="1.15" stroke-linecap="butt"/>
<line x1="228.01" y1="471.00" x2="228.01" y2="473.90" stroke="#111" stroke-width="1.15" stroke-linecap="butt"/>
<line x1="231.59" y1="471.00" x2="231.59" y2="473.90" stroke="#111" stroke-width="1.15" stroke-linecap="butt"/>
<line x1="234.38" y1="471.00" x2="234.38" y2="473.90" stroke="#111" stroke-width="1.15" stroke-linecap="butt"/>
<line x1="236.65" y1="471.00" x2="236.65" y2="473.90" stroke="#111" stroke-width="1.15" stroke-linecap="butt"/>
<line x1="238.58" y1="471.00" x2="238.58" y2="473.90" stroke="#111" stroke-width="1.15" stroke-linecap="butt"/>
<line x1="240.24" y1="471.00" x2="240.24" y2="473.90" stroke="#111" stroke-width="1.15" stroke-linecap="butt"/>
<line x1="241.71" y1="471.00" x2="241.71" y2="473.90" stroke="#111" stroke-width="1.15" stroke-linecap="butt"/>
<line x1="243.03" y1="471.00" x2="243.03" y2="475.60" stroke="#111" stroke-width="1.3" stroke-linecap="butt"/>
<line x1="251.67" y1="471.00" x2="251.67" y2="473.90" stroke="#111" stroke-width="1.15" stroke-linecap="butt"/>
<line x1="256.73" y1="471.00" x2="256.73" y2="473.90" stroke="#111" stroke-width="1.15" stroke-linecap="butt"/>
<line x1="260.32" y1="471.00" x2="260.32" y2="473.90" stroke="#111" stroke-width="1.15" stroke-linecap="butt"/>
<line x1="263.10" y1="471.00" x2="263.10" y2="473.90" stroke="#111" stroke-width="1.15" stroke-linecap="butt"/>
<line x1="265.38" y1="471.00" x2="265.38" y2="473.90" stroke="#111" stroke-width="1.15" stroke-linecap="butt"/>
<line x1="267.30" y1="471.00" x2="267.30" y2="473.90" stroke="#111" stroke-width="1.15" stroke-linecap="butt"/>
<line x1="268.97" y1="471.00" x2="268.97" y2="473.90" stroke="#111" stroke-width="1.15" stroke-linecap="butt"/>
<line x1="270.44" y1="471.00" x2="270.44" y2="473.90" stroke="#111" stroke-width="1.15" stroke-linecap="butt"/>
<line x1="271.75" y1="471.00" x2="271.75" y2="475.60" stroke="#111" stroke-width="1.3" stroke-linecap="butt"/>
<line x1="280.40" y1="471.00" x2="280.40" y2="473.90" stroke="#111" stroke-width="1.15" stroke-linecap="butt"/>
<line x1="285.46" y1="471.00" x2="285.46" y2="473.90" stroke="#111" stroke-width="1.15" stroke-linecap="butt"/>
<line x1="289.04" y1="471.00" x2="289.04" y2="473.90" stroke="#111" stroke-width="1.15" stroke-linecap="butt"/>
<line x1="291.83" y1="471.00" x2="291.83" y2="473.90" stroke="#111" stroke-width="1.15" stroke-linecap="butt"/>
<line x1="294.10" y1="471.00" x2="294.10" y2="473.90" stroke="#111" stroke-width="1.15" stroke-linecap="butt"/>
<line x1="296.03" y1="471.00" x2="296.03" y2="473.90" stroke="#111" stroke-width="1.15" stroke-linecap="butt"/>
<line x1="297.69" y1="471.00" x2="297.69" y2="473.90" stroke="#111" stroke-width="1.15" stroke-linecap="butt"/>
<line x1="299.16" y1="471.00" x2="299.16" y2="473.90" stroke="#111" stroke-width="1.15" stroke-linecap="butt"/>
<line x1="300.48" y1="471.00" x2="300.48" y2="475.60" stroke="#111" stroke-width="1.3" stroke-linecap="butt"/>
<line x1="309.12" y1="471.00" x2="309.12" y2="473.90" stroke="#111" stroke-width="1.15" stroke-linecap="butt"/>
<line x1="314.18" y1="471.00" x2="314.18" y2="473.90" stroke="#111" stroke-width="1.15" stroke-linecap="butt"/>
<line x1="317.77" y1="471.00" x2="317.77" y2="473.90" stroke="#111" stroke-width="1.15" stroke-linecap="butt"/>
<line x1="320.55" y1="471.00" x2="320.55" y2="473.90" stroke="#111" stroke-width="1.15" stroke-linecap="butt"/>
<line x1="322.83" y1="471.00" x2="322.83" y2="473.90" stroke="#111" stroke-width="1.15" stroke-linecap="butt"/>
<line x1="324.75" y1="471.00" x2="324.75" y2="473.90" stroke="#111" stroke-width="1.15" stroke-linecap="butt"/>
<line x1="326.42" y1="471.00" x2="326.42" y2="473.90" stroke="#111" stroke-width="1.15" stroke-linecap="butt"/>
<line x1="327.89" y1="471.00" x2="327.89" y2="473.90" stroke="#111" stroke-width="1.15" stroke-linecap="butt"/>
<line x1="329.20" y1="471.00" x2="329.20" y2="475.60" stroke="#111" stroke-width="1.3" stroke-linecap="butt"/>
<line x1="214.30" y1="385.50" x2="329.80" y2="385.50" stroke="#111" stroke-width="1.0" stroke-linecap="butt"/>
<line x1="329.20" y1="385.50" x2="329.20" y2="471.00" stroke="#222" stroke-width="1.4" stroke-linecap="butt"/>
<line x1="214.30" y1="385.00" x2="214.30" y2="471.80" stroke="#1a1a1a" stroke-width="1.4" stroke-linecap="butt"/>
<line x1="213.70" y1="471.00" x2="329.80" y2="471.00" stroke="#1a1a1a" stroke-width="1.4" stroke-linecap="butt"/>
<text x="205.80" y="490.90" font-size="13">10<tspan font-size="9.2" dy="-5.6">0</tspan></text>
<text x="234.10" y="490.90" font-size="13">10<tspan font-size="9.2" dy="-5.6">1</tspan></text>
<text x="262.30" y="490.90" font-size="13">10<tspan font-size="9.2" dy="-5.6">2</tspan></text>
<text x="290.00" y="490.90" font-size="13">10<tspan font-size="9.2" dy="-5.6">3</tspan></text>
<text x="317.70" y="490.90" font-size="13">10<tspan font-size="9.2" dy="-5.6">4</tspan></text>
<text x="271.50" y="510.70" font-size="14" text-anchor="middle" font-weight="normal" >PDL1 PE</text>
<text x="0.00" y="0.00" font-size="14" text-anchor="middle" font-weight="normal" transform="translate(183.2,428) rotate(-90)">Counts</text>
<path d="M 408.40 471.00 L 408.40 467.22 L 409.60 467.22 L 409.60 461.25 L 410.55 461.25 L 410.55 461.37 L 411.50 461.37 L 411.50 460.83 L 412.10 460.83 L 412.10 456.81 L 413.05 456.81 L 413.05 456.76 L 414.00 456.76 L 414.00 456.73 L 414.00 456.73 L 414.00 460.69 L 414.92 460.69 L 414.92 460.62 L 415.83 460.62 L 415.83 460.91 L 416.75 460.91 L 416.75 461.20 L 417.67 461.20 L 417.67 460.80 L 418.58 460.80 L 418.58 461.00 L 419.50 461.00 L 419.50 460.85 L 420.20 460.85 L 420.20 457.58 L 421.23 457.58 L 421.23 457.42 L 422.27 457.42 L 422.27 456.75 L 423.30 456.75 L 423.30 457.00 L 424.33 457.00 L 424.33 456.05 L 425.37 456.05 L 425.37 456.45 L 426.40 456.45 L 426.40 456.30 L 427.65 456.30 L 427.65 455.42 L 428.90 455.42 L 428.90 455.56 L 429.80 455.56 L 429.80 454.20 L 430.70 454.20 L 430.70 453.26 L 431.60 453.26 L 431.60 450.82 L 432.50 450.82 L 432.50 449.23 L 434.00 449.23 L 434.00 449.51 L 435.10 449.51 L 435.10 449.91 L 435.70 449.91 L 435.70 453.35 L 436.65 453.35 L 436.65 454.42 L 437.60 454.42 L 437.60 456.35 L 438.80 456.35 L 438.80 453.48 L 440.10 453.48 L 440.10 453.90 L 441.30 453.90 L 441.30 450.71 L 442.60 450.71 L 442.60 443.85 L 443.80 443.85 L 443.80 432.65 L 445.00 432.65 L 445.00 422.74 L 446.30 422.74 L 446.30 418.91 L 447.50 418.91 L 447.50 419.20 L 448.70 419.20 L 448.70 422.04 L 450.00 422.04 L 450.00 425.70 L 451.20 425.70 L 451.20 432.28 L 452.40 432.28 L 452.40 442.67 L 453.70 442.67 L 453.70 449.70 L 454.90 449.70 L 454.90 457.52 L 456.20 457.52 L 456.20 462.49 L 457.40 462.49 L 457.40 464.49 L 458.65 464.49 L 458.65 465.70 L 459.90 465.70 L 459.90 466.97 L 460.85 466.97 L 460.85 467.22 L 461.80 467.22 L 461.80 467.69 L 462.83 467.69 L 462.83 468.01 L 463.87 468.01 L 463.87 468.83 L 464.90 468.83 L 464.90 468.75 L 465.92 468.75 L 465.92 469.28 L 466.94 469.28 L 466.94 469.44 L 467.96 469.44 L 467.96 469.64 L 468.98 469.64 L 468.98 469.50 L 470.00 469.50 L 470.00 470.13 L 471.00 470.13 L 471.00 470.53 L 472.00 470.53 L 472.00 470.26 L 473.00 470.26 L 473.00 470.47 L 474.00 470.47 L 474.00 471.00 L 475.00 471.00 L 475.00 471.00 L 475.00 471.00 Z" fill="#a3a3a3" opacity="1"/>
<path d="M 446.20 471.00 L 446.20 424.00 L 447.50 422.30 L 448.50 423.00 L 449.70 426.50 L 450.30 440.00 L 446.00 440.00 L 446.00 471.00 Z" fill="#ffffff" opacity="1"/>
<path d="M 420.20 471.00 L 420.20 464.78 L 421.40 464.78 L 421.40 461.38 L 422.02 461.38 L 422.02 459.41 L 422.65 459.41 L 422.65 459.14 L 423.27 459.14 L 423.27 458.18 L 423.90 458.18 L 423.90 456.59 L 425.00 456.59 L 425.00 463.18 L 425.60 463.18 L 425.60 463.25 L 426.20 463.25 L 426.20 462.01 L 426.80 462.01 L 426.80 462.09 L 427.40 462.09 L 427.40 461.35 L 428.00 461.35 L 428.00 459.57 L 428.30 459.57 L 428.30 447.81 L 428.60 447.81 L 428.60 459.67 L 429.27 459.67 L 429.27 461.10 L 429.93 461.10 L 429.93 461.44 L 430.60 461.44 L 430.60 460.87 L 431.27 460.87 L 431.27 460.60 L 431.93 460.60 L 431.93 460.52 L 432.60 460.52 L 432.60 459.55 L 433.23 459.55 L 433.23 461.00 L 433.85 461.00 L 433.85 460.14 L 434.48 460.14 L 434.48 460.80 L 435.10 460.80 L 435.10 461.45 L 435.72 461.45 L 435.72 461.76 L 436.33 461.76 L 436.33 461.60 L 436.95 461.60 L 436.95 460.90 L 437.57 460.90 L 437.57 460.52 L 438.18 460.52 L 438.18 460.33 L 438.80 460.33 L 438.80 459.70 L 439.43 459.70 L 439.43 458.90 L 440.05 458.90 L 440.05 458.91 L 440.68 458.91 L 440.68 459.22 L 441.30 459.22 L 441.30 458.78 L 441.95 458.78 L 441.95 456.50 L 442.60 456.50 L 442.60 453.63 L 443.80 453.63 L 443.80 447.83 L 445.00 447.83 L 445.00 441.48 L 446.20 441.48 L 446.20 433.18 L 447.00 433.18 L 447.00 438.85 L 447.85 438.85 L 447.85 439.50 L 448.70 439.50 L 448.70 441.89 L 449.35 441.89 L 449.35 442.62 L 450.00 442.62 L 450.00 442.99 L 451.20 442.99 L 451.20 450.63 L 452.40 450.63 L 452.40 458.11 L 453.10 458.11 L 453.10 462.59 L 453.90 462.59 L 453.90 458.03 L 454.70 458.03 L 454.70 453.22 L 455.50 453.22 L 455.50 458.51 L 456.14 458.51 L 456.14 459.17 L 456.78 459.17 L 456.78 459.95 L 457.42 459.95 L 457.42 460.55 L 458.06 460.55 L 458.06 461.19 L 458.70 461.19 L 458.70 460.64 L 459.30 460.64 L 459.30 463.84 L 460.15 463.84 L 460.15 467.36 L 461.00 467.36 L 461.00 471.00 L 461.00 471.00 Z" fill="#000" opacity="1"/>
<path d="M 464.40 471.00 L 464.40 469.50 L 465.20 466.00 L 465.80 466.00 L 466.60 469.50 L 466.60 471.00 Z" fill="#000" opacity="1"/>
<path d="M 466.90 471.00 L 466.90 469.50 L 467.70 467.00 L 468.30 467.00 L 469.10 469.50 L 469.10 471.00 Z" fill="#000" opacity="1"/>
<path d="M 469.40 471.00 L 469.40 469.50 L 470.20 466.50 L 470.80 466.50 L 471.60 469.50 L 471.60 471.00 Z" fill="#000" opacity="1"/>
<path d="M 472.50 471.00 L 472.50 469.50 L 473.30 465.30 L 473.90 465.30 L 474.70 469.50 L 474.70 471.00 Z" fill="#000" opacity="1"/>
<path d="M 474.40 471.00 L 474.40 469.50 L 475.20 465.50 L 475.80 465.50 L 476.60 469.50 L 476.60 471.00 Z" fill="#000" opacity="1"/>
<path d="M 476.40 471.00 L 476.40 469.50 L 477.20 466.00 L 477.80 466.00 L 478.60 469.50 L 478.60 471.00 Z" fill="#000" opacity="1"/>
<path d="M 478.90 471.00 L 478.90 469.50 L 479.70 467.00 L 480.30 467.00 L 481.10 469.50 L 481.10 471.00 Z" fill="#000" opacity="1"/>
<path d="M 484.30 471.00 L 484.30 469.50 L 485.10 465.30 L 485.70 465.30 L 486.50 469.50 L 486.50 471.00 Z" fill="#000" opacity="1"/>
<path d="M 413.30 471.00 L 413.30 467.48 L 414.29 467.48 L 414.29 467.66 L 415.27 467.66 L 415.27 467.03 L 416.26 467.03 L 416.26 466.60 L 417.24 466.60 L 417.24 466.59 L 418.23 466.59 L 418.23 466.29 L 419.21 466.29 L 419.21 465.98 L 420.20 465.98 L 420.20 465.66 L 421.40 465.66 L 421.40 462.96 L 422.65 462.96 L 422.65 460.85 L 423.90 460.85 L 423.90 459.19 L 425.00 459.19 L 425.00 464.32 L 425.95 464.32 L 425.95 464.21 L 426.90 464.21 L 426.90 463.86 L 427.85 463.86 L 427.85 463.48 L 428.80 463.48 L 428.80 463.09 L 429.75 463.09 L 429.75 461.92 L 430.70 461.92 L 430.70 461.46 L 431.65 461.46 L 431.65 461.50 L 432.60 461.50 L 432.60 460.88 L 433.85 460.88 L 433.85 461.10 L 435.10 461.10 L 435.10 462.18 L 436.03 462.18 L 436.03 462.07 L 436.95 462.07 L 436.95 461.74 L 437.88 461.74 L 437.88 460.82 L 438.80 460.82 L 438.80 460.60 L 440.05 460.60 L 440.05 459.66 L 441.30 459.66 L 441.30 459.98 L 442.60 459.98 L 442.60 454.22 L 443.80 454.22 L 443.80 448.53 L 445.00 448.53 L 445.00 442.14 L 446.20 442.14 L 446.20 435.09 L 447.00 435.09 L 447.00 439.63 L 448.70 439.63 L 448.70 442.43 L 450.00 442.43 L 450.00 443.40 L 451.20 443.40 L 451.20 451.80 L 452.40 451.80 L 452.40 457.91 L 453.10 457.91 L 453.10 463.18 L 454.90 463.18 L 454.90 468.62 L 456.00 468.62 L 456.00 470.65 L 456.00 471.00 Z" fill="#3f3f3f" opacity="1"/>
<line x1="401.30" y1="471.00" x2="406.00" y2="471.00" stroke="#111" stroke-width="1.3" stroke-linecap="butt"/>
<line x1="403.50" y1="466.73" x2="406.00" y2="466.73" stroke="#111" stroke-width="1.15" stroke-linecap="butt"/>
<line x1="403.50" y1="462.45" x2="406.00" y2="462.45" stroke="#111" stroke-width="1.15" stroke-linecap="butt"/>
<line x1="403.50" y1="458.18" x2="406.00" y2="458.18" stroke="#111" stroke-width="1.15" stroke-linecap="butt"/>
<line x1="403.50" y1="453.90" x2="406.00" y2="453.90" stroke="#111" stroke-width="1.15" stroke-linecap="butt"/>
<line x1="401.30" y1="449.62" x2="406.00" y2="449.62" stroke="#111" stroke-width="1.3" stroke-linecap="butt"/>
<line x1="403.50" y1="445.35" x2="406.00" y2="445.35" stroke="#111" stroke-width="1.15" stroke-linecap="butt"/>
<line x1="403.50" y1="441.07" x2="406.00" y2="441.07" stroke="#111" stroke-width="1.15" stroke-linecap="butt"/>
<line x1="403.50" y1="436.80" x2="406.00" y2="436.80" stroke="#111" stroke-width="1.15" stroke-linecap="butt"/>
<line x1="403.50" y1="432.52" x2="406.00" y2="432.52" stroke="#111" stroke-width="1.15" stroke-linecap="butt"/>
<line x1="401.30" y1="428.25" x2="406.00" y2="428.25" stroke="#111" stroke-width="1.3" stroke-linecap="butt"/>
<line x1="403.50" y1="423.98" x2="406.00" y2="423.98" stroke="#111" stroke-width="1.15" stroke-linecap="butt"/>
<line x1="403.50" y1="419.70" x2="406.00" y2="419.70" stroke="#111" stroke-width="1.15" stroke-linecap="butt"/>
<line x1="403.50" y1="415.43" x2="406.00" y2="415.43" stroke="#111" stroke-width="1.15" stroke-linecap="butt"/>
<line x1="403.50" y1="411.15" x2="406.00" y2="411.15" stroke="#111" stroke-width="1.15" stroke-linecap="butt"/>
<line x1="401.30" y1="406.88" x2="406.00" y2="406.88" stroke="#111" stroke-width="1.3" stroke-linecap="butt"/>
<line x1="403.50" y1="402.60" x2="406.00" y2="402.60" stroke="#111" stroke-width="1.15" stroke-linecap="butt"/>
<line x1="403.50" y1="398.32" x2="406.00" y2="398.32" stroke="#111" stroke-width="1.15" stroke-linecap="butt"/>
<line x1="403.50" y1="394.05" x2="406.00" y2="394.05" stroke="#111" stroke-width="1.15" stroke-linecap="butt"/>
<line x1="403.50" y1="389.77" x2="406.00" y2="389.77" stroke="#111" stroke-width="1.15" stroke-linecap="butt"/>
<line x1="401.30" y1="385.50" x2="406.00" y2="385.50" stroke="#111" stroke-width="1.3" stroke-linecap="butt"/>
<text x="397.25" y="476.70" font-size="13" text-anchor="end" font-weight="normal" >0</text>
<text x="397.25" y="455.32" font-size="13" text-anchor="end" font-weight="normal" >5</text>
<text x="397.25" y="433.95" font-size="13" text-anchor="end" font-weight="normal" >10</text>
<text x="397.25" y="412.57" font-size="13" text-anchor="end" font-weight="normal" >15</text>
<text x="397.25" y="391.20" font-size="13" text-anchor="end" font-weight="normal" >20</text>
<line x1="406.00" y1="471.00" x2="406.00" y2="475.60" stroke="#111" stroke-width="1.3" stroke-linecap="butt"/>
<line x1="414.62" y1="471.00" x2="414.62" y2="473.90" stroke="#111" stroke-width="1.15" stroke-linecap="butt"/>
<line x1="419.66" y1="471.00" x2="419.66" y2="473.90" stroke="#111" stroke-width="1.15" stroke-linecap="butt"/>
<line x1="423.23" y1="471.00" x2="423.23" y2="473.90" stroke="#111" stroke-width="1.15" stroke-linecap="butt"/>
<line x1="426.01" y1="471.00" x2="426.01" y2="473.90" stroke="#111" stroke-width="1.15" stroke-linecap="butt"/>
<line x1="428.27" y1="471.00" x2="428.27" y2="473.90" stroke="#111" stroke-width="1.15" stroke-linecap="butt"/>
<line x1="430.19" y1="471.00" x2="430.19" y2="473.90" stroke="#111" stroke-width="1.15" stroke-linecap="butt"/>
<line x1="431.85" y1="471.00" x2="431.85" y2="473.90" stroke="#111" stroke-width="1.15" stroke-linecap="butt"/>
<line x1="433.32" y1="471.00" x2="433.32" y2="473.90" stroke="#111" stroke-width="1.15" stroke-linecap="butt"/>
<line x1="434.62" y1="471.00" x2="434.62" y2="475.60" stroke="#111" stroke-width="1.3" stroke-linecap="butt"/>
<line x1="443.24" y1="471.00" x2="443.24" y2="473.90" stroke="#111" stroke-width="1.15" stroke-linecap="butt"/>
<line x1="448.28" y1="471.00" x2="448.28" y2="473.90" stroke="#111" stroke-width="1.15" stroke-linecap="butt"/>
<line x1="451.86" y1="471.00" x2="451.86" y2="473.90" stroke="#111" stroke-width="1.15" stroke-linecap="butt"/>
<line x1="454.63" y1="471.00" x2="454.63" y2="473.90" stroke="#111" stroke-width="1.15" stroke-linecap="butt"/>
<line x1="456.90" y1="471.00" x2="456.90" y2="473.90" stroke="#111" stroke-width="1.15" stroke-linecap="butt"/>
<line x1="458.82" y1="471.00" x2="458.82" y2="473.90" stroke="#111" stroke-width="1.15" stroke-linecap="butt"/>
<line x1="460.48" y1="471.00" x2="460.48" y2="473.90" stroke="#111" stroke-width="1.15" stroke-linecap="butt"/>
<line x1="461.94" y1="471.00" x2="461.94" y2="473.90" stroke="#111" stroke-width="1.15" stroke-linecap="butt"/>
<line x1="463.25" y1="471.00" x2="463.25" y2="475.60" stroke="#111" stroke-width="1.3" stroke-linecap="butt"/>
<line x1="471.87" y1="471.00" x2="471.87" y2="473.90" stroke="#111" stroke-width="1.15" stroke-linecap="butt"/>
<line x1="476.91" y1="471.00" x2="476.91" y2="473.90" stroke="#111" stroke-width="1.15" stroke-linecap="butt"/>
<line x1="480.48" y1="471.00" x2="480.48" y2="473.90" stroke="#111" stroke-width="1.15" stroke-linecap="butt"/>
<line x1="483.26" y1="471.00" x2="483.26" y2="473.90" stroke="#111" stroke-width="1.15" stroke-linecap="butt"/>
<line x1="485.52" y1="471.00" x2="485.52" y2="473.90" stroke="#111" stroke-width="1.15" stroke-linecap="butt"/>
<line x1="487.44" y1="471.00" x2="487.44" y2="473.90" stroke="#111" stroke-width="1.15" stroke-linecap="butt"/>
<line x1="489.10" y1="471.00" x2="489.10" y2="473.90" stroke="#111" stroke-width="1.15" stroke-linecap="butt"/>
<line x1="490.57" y1="471.00" x2="490.57" y2="473.90" stroke="#111" stroke-width="1.15" stroke-linecap="butt"/>
<line x1="491.88" y1="471.00" x2="491.88" y2="475.60" stroke="#111" stroke-width="1.3" stroke-linecap="butt"/>
<line x1="500.49" y1="471.00" x2="500.49" y2="473.90" stroke="#111" stroke-width="1.15" stroke-linecap="butt"/>
<line x1="505.53" y1="471.00" x2="505.53" y2="473.90" stroke="#111" stroke-width="1.15" stroke-linecap="butt"/>
<line x1="509.11" y1="471.00" x2="509.11" y2="473.90" stroke="#111" stroke-width="1.15" stroke-linecap="butt"/>
<line x1="511.88" y1="471.00" x2="511.88" y2="473.90" stroke="#111" stroke-width="1.15" stroke-linecap="butt"/>
<line x1="514.15" y1="471.00" x2="514.15" y2="473.90" stroke="#111" stroke-width="1.15" stroke-linecap="butt"/>
<line x1="516.07" y1="471.00" x2="516.07" y2="473.90" stroke="#111" stroke-width="1.15" stroke-linecap="butt"/>
<line x1="517.73" y1="471.00" x2="517.73" y2="473.90" stroke="#111" stroke-width="1.15" stroke-linecap="butt"/>
<line x1="519.19" y1="471.00" x2="519.19" y2="473.90" stroke="#111" stroke-width="1.15" stroke-linecap="butt"/>
<line x1="520.50" y1="471.00" x2="520.50" y2="475.60" stroke="#111" stroke-width="1.3" stroke-linecap="butt"/>
<line x1="406.00" y1="385.50" x2="521.10" y2="385.50" stroke="#111" stroke-width="1.0" stroke-linecap="butt"/>
<line x1="520.50" y1="385.50" x2="520.50" y2="471.00" stroke="#222" stroke-width="1.4" stroke-linecap="butt"/>
<line x1="406.00" y1="385.00" x2="406.00" y2="471.80" stroke="#1a1a1a" stroke-width="1.4" stroke-linecap="butt"/>
<line x1="405.40" y1="471.00" x2="521.10" y2="471.00" stroke="#1a1a1a" stroke-width="1.4" stroke-linecap="butt"/>
<text x="396.50" y="490.90" font-size="13">10<tspan font-size="9.2" dy="-5.6">0</tspan></text>
<text x="424.70" y="490.90" font-size="13">10<tspan font-size="9.2" dy="-5.6">1</tspan></text>
<text x="452.40" y="490.90" font-size="13">10<tspan font-size="9.2" dy="-5.6">2</tspan></text>
<text x="480.00" y="490.90" font-size="13">10<tspan font-size="9.2" dy="-5.6">3</tspan></text>
<text x="507.10" y="490.90" font-size="13">10<tspan font-size="9.2" dy="-5.6">4</tspan></text>
<text x="463.10" y="510.70" font-size="14" text-anchor="middle" font-weight="normal" >PD-L1 PE</text>
<text x="0.00" y="0.00" font-size="14" text-anchor="middle" font-weight="normal" transform="translate(374,428) rotate(-90)">Counts</text>
<text x="-0.60" y="246.20" font-size="16.2" text-anchor="start" font-weight="bold" >C</text>
<text x="360.70" y="245.90" font-size="16.2" text-anchor="start" font-weight="bold" >D</text></svg>
</body></html>
